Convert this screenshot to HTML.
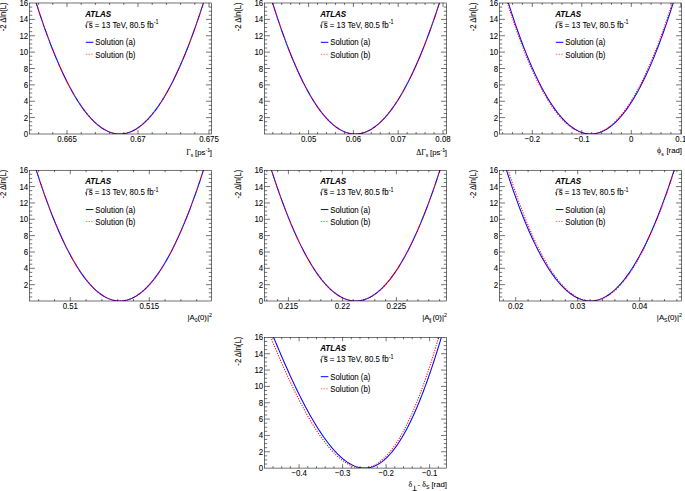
<!DOCTYPE html>
<html><head><meta charset="utf-8"><style>
html,body{margin:0;padding:0;background:#fff;}
body{width:685px;height:491px;overflow:hidden;}
svg{display:block;font-family:"Liberation Sans",sans-serif;font-size:7.8px;}
text{stroke:#000;stroke-width:0.06px;}
</style></head><body>
<svg width="685" height="491" viewBox="0 0 685 491">
<rect width="685" height="491" fill="#fff"/>
<clipPath id="c00"><rect x="29.5" y="3" width="182" height="131"/></clipPath>
<polyline clip-path="url(#c00)" points="32.37,-9.28 33.10,-6.90 33.83,-4.55 34.55,-2.21 35.28,0.11 36.01,2.41 36.74,4.69 37.47,6.95 38.20,9.19 38.93,11.40 39.65,13.60 40.38,15.78 41.11,17.94 41.84,20.08 42.57,22.20 43.30,24.30 44.03,26.38 44.76,28.44 45.48,30.48 46.21,32.50 46.94,34.50 47.67,36.48 48.40,38.44 49.13,40.38 49.86,42.30 50.58,44.20 51.31,46.08 52.04,47.94 52.77,49.78 53.50,51.60 54.23,53.40 54.96,55.19 55.68,56.95 56.41,58.69 57.14,60.41 57.87,62.11 58.60,63.79 59.33,65.45 60.06,67.10 60.78,68.72 61.51,70.32 62.24,71.90 62.97,73.46 63.70,75.01 64.43,76.53 65.16,78.03 65.88,79.51 66.61,80.98 67.34,82.42 68.07,83.84 68.80,85.24 69.53,86.63 70.26,87.99 70.98,89.33 71.71,90.66 72.44,91.96 73.17,93.24 73.90,94.51 74.63,95.75 75.36,96.98 76.08,98.18 76.81,99.36 77.54,100.53 78.27,101.67 79.00,102.80 79.73,103.90 80.46,104.99 81.18,106.05 81.91,107.09 82.64,108.12 83.37,109.12 84.10,110.11 84.83,111.07 85.56,112.02 86.28,112.95 87.01,113.85 87.74,114.74 88.47,115.60 89.20,116.45 89.93,117.27 90.66,118.08 91.38,118.87 92.11,119.63 92.84,120.38 93.57,121.10 94.30,121.81 95.03,122.50 95.76,123.16 96.49,123.81 97.21,124.44 97.94,125.04 98.67,125.63 99.40,126.20 100.13,126.75 100.86,127.27 101.59,127.78 102.31,128.27 103.04,128.74 103.77,129.18 104.50,129.61 105.23,130.02 105.96,130.41 106.69,130.78 107.41,131.12 108.14,131.45 108.87,131.76 109.60,132.05 110.33,132.32 111.06,132.57 111.79,132.80 112.51,133.00 113.24,133.19 113.97,133.36 114.70,133.51 115.43,133.64 116.16,133.75 116.89,133.84 117.61,133.91 118.34,133.96 119.07,133.99 119.80,134.00 120.53,133.99 121.26,133.96 121.99,133.91 122.71,133.84 123.44,133.75 124.17,133.64 124.90,133.51 125.63,133.36 126.36,133.19 127.09,133.00 127.81,132.80 128.54,132.57 129.27,132.32 130.00,132.05 130.73,131.76 131.46,131.45 132.19,131.12 132.91,130.78 133.64,130.41 134.37,130.02 135.10,129.61 135.83,129.18 136.56,128.74 137.29,128.27 138.01,127.78 138.74,127.27 139.47,126.75 140.20,126.20 140.93,125.63 141.66,125.04 142.39,124.44 143.11,123.81 143.84,123.16 144.57,122.50 145.30,121.81 146.03,121.10 146.76,120.38 147.49,119.63 148.22,118.87 148.94,118.08 149.67,117.27 150.40,116.45 151.13,115.60 151.86,114.74 152.59,113.85 153.32,112.95 154.04,112.02 154.77,111.07 155.50,110.11 156.23,109.12 156.96,108.12 157.69,107.09 158.42,106.05 159.14,104.99 159.87,103.90 160.60,102.80 161.33,101.67 162.06,100.53 162.79,99.36 163.52,98.18 164.24,96.98 164.97,95.75 165.70,94.51 166.43,93.24 167.16,91.96 167.89,90.66 168.62,89.33 169.34,87.99 170.07,86.63 170.80,85.24 171.53,83.84 172.26,82.42 172.99,80.98 173.72,79.51 174.44,78.03 175.17,76.53 175.90,75.01 176.63,73.46 177.36,71.90 178.09,70.32 178.82,68.72 179.54,67.10 180.27,65.45 181.00,63.79 181.73,62.11 182.46,60.41 183.19,58.69 183.92,56.95 184.64,55.19 185.37,53.40 186.10,51.60 186.83,49.78 187.56,47.94 188.29,46.08 189.02,44.20 189.74,42.30 190.47,40.38 191.20,38.44 191.93,36.48 192.66,34.50 193.39,32.50 194.12,30.48 194.84,28.44 195.57,26.38 196.30,24.30 197.03,22.20 197.76,20.08 198.49,17.94 199.22,15.78 199.95,13.60 200.67,11.40 201.40,9.19 202.13,6.95 202.86,4.69 203.59,2.41 204.32,0.11 205.05,-2.21 205.77,-4.55 206.50,-6.90 207.23,-9.28" fill="none" stroke="#0000ff" stroke-width="1.05"/>
<polyline clip-path="url(#c00)" points="32.37,-9.28 33.10,-6.90 33.83,-4.55 34.55,-2.21 35.28,0.11 36.01,2.41 36.74,4.69 37.47,6.95 38.20,9.19 38.93,11.40 39.65,13.60 40.38,15.78 41.11,17.94 41.84,20.08 42.57,22.20 43.30,24.30 44.03,26.38 44.76,28.44 45.48,30.48 46.21,32.50 46.94,34.50 47.67,36.48 48.40,38.44 49.13,40.38 49.86,42.30 50.58,44.20 51.31,46.08 52.04,47.94 52.77,49.78 53.50,51.60 54.23,53.40 54.96,55.19 55.68,56.95 56.41,58.69 57.14,60.41 57.87,62.11 58.60,63.79 59.33,65.45 60.06,67.10 60.78,68.72 61.51,70.32 62.24,71.90 62.97,73.46 63.70,75.01 64.43,76.53 65.16,78.03 65.88,79.51 66.61,80.98 67.34,82.42 68.07,83.84 68.80,85.24 69.53,86.63 70.26,87.99 70.98,89.33 71.71,90.66 72.44,91.96 73.17,93.24 73.90,94.51 74.63,95.75 75.36,96.98 76.08,98.18 76.81,99.36 77.54,100.53 78.27,101.67 79.00,102.80 79.73,103.90 80.46,104.99 81.18,106.05 81.91,107.09 82.64,108.12 83.37,109.12 84.10,110.11 84.83,111.07 85.56,112.02 86.28,112.95 87.01,113.85 87.74,114.74 88.47,115.60 89.20,116.45 89.93,117.27 90.66,118.08 91.38,118.87 92.11,119.63 92.84,120.38 93.57,121.10 94.30,121.81 95.03,122.50 95.76,123.16 96.49,123.81 97.21,124.44 97.94,125.04 98.67,125.63 99.40,126.20 100.13,126.75 100.86,127.27 101.59,127.78 102.31,128.27 103.04,128.74 103.77,129.18 104.50,129.61 105.23,130.02 105.96,130.41 106.69,130.78 107.41,131.12 108.14,131.45 108.87,131.76 109.60,132.05 110.33,132.32 111.06,132.57 111.79,132.80 112.51,133.00 113.24,133.19 113.97,133.36 114.70,133.51 115.43,133.64 116.16,133.75 116.89,133.84 117.61,133.91 118.34,133.96 119.07,133.99 119.80,134.00 120.53,133.99 121.26,133.96 121.99,133.91 122.71,133.84 123.44,133.75 124.17,133.64 124.90,133.51 125.63,133.36 126.36,133.19 127.09,133.00 127.81,132.80 128.54,132.57 129.27,132.32 130.00,132.05 130.73,131.76 131.46,131.45 132.19,131.12 132.91,130.78 133.64,130.41 134.37,130.02 135.10,129.61 135.83,129.18 136.56,128.74 137.29,128.27 138.01,127.78 138.74,127.27 139.47,126.75 140.20,126.20 140.93,125.63 141.66,125.04 142.39,124.44 143.11,123.81 143.84,123.16 144.57,122.50 145.30,121.81 146.03,121.10 146.76,120.38 147.49,119.63 148.22,118.87 148.94,118.08 149.67,117.27 150.40,116.45 151.13,115.60 151.86,114.74 152.59,113.85 153.32,112.95 154.04,112.02 154.77,111.07 155.50,110.11 156.23,109.12 156.96,108.12 157.69,107.09 158.42,106.05 159.14,104.99 159.87,103.90 160.60,102.80 161.33,101.67 162.06,100.53 162.79,99.36 163.52,98.18 164.24,96.98 164.97,95.75 165.70,94.51 166.43,93.24 167.16,91.96 167.89,90.66 168.62,89.33 169.34,87.99 170.07,86.63 170.80,85.24 171.53,83.84 172.26,82.42 172.99,80.98 173.72,79.51 174.44,78.03 175.17,76.53 175.90,75.01 176.63,73.46 177.36,71.90 178.09,70.32 178.82,68.72 179.54,67.10 180.27,65.45 181.00,63.79 181.73,62.11 182.46,60.41 183.19,58.69 183.92,56.95 184.64,55.19 185.37,53.40 186.10,51.60 186.83,49.78 187.56,47.94 188.29,46.08 189.02,44.20 189.74,42.30 190.47,40.38 191.20,38.44 191.93,36.48 192.66,34.50 193.39,32.50 194.12,30.48 194.84,28.44 195.57,26.38 196.30,24.30 197.03,22.20 197.76,20.08 198.49,17.94 199.22,15.78 199.95,13.60 200.67,11.40 201.40,9.19 202.13,6.95 202.86,4.69 203.59,2.41 204.32,0.11 205.05,-2.21 205.77,-4.55 206.50,-6.90 207.23,-9.28" fill="none" stroke="#ff0000" stroke-width="1.05" stroke-dasharray="1.15,1.35"/>
<rect x="29.5" y="3" width="182" height="131" fill="none" stroke="#000" stroke-width="0.55"/>
<path d="M29.5 129.91h2.73M211.5 129.91h-2.73M29.5 125.81h2.73M211.5 125.81h-2.73M29.5 121.72h2.73M211.5 121.72h-2.73M29.5 117.62h5.46M211.5 117.62h-5.46M29.5 113.53h2.73M211.5 113.53h-2.73M29.5 109.44h2.73M211.5 109.44h-2.73M29.5 105.34h2.73M211.5 105.34h-2.73M29.5 101.25h5.46M211.5 101.25h-5.46M29.5 97.16h2.73M211.5 97.16h-2.73M29.5 93.06h2.73M211.5 93.06h-2.73M29.5 88.97h2.73M211.5 88.97h-2.73M29.5 84.88h5.46M211.5 84.88h-5.46M29.5 80.78h2.73M211.5 80.78h-2.73M29.5 76.69h2.73M211.5 76.69h-2.73M29.5 72.59h2.73M211.5 72.59h-2.73M29.5 68.5h5.46M211.5 68.5h-5.46M29.5 64.41h2.73M211.5 64.41h-2.73M29.5 60.31h2.73M211.5 60.31h-2.73M29.5 56.22h2.73M211.5 56.22h-2.73M29.5 52.12h5.46M211.5 52.12h-5.46M29.5 48.03h2.73M211.5 48.03h-2.73M29.5 43.94h2.73M211.5 43.94h-2.73M29.5 39.84h2.73M211.5 39.84h-2.73M29.5 35.75h5.46M211.5 35.75h-5.46M29.5 31.66h2.73M211.5 31.66h-2.73M29.5 27.56h2.73M211.5 27.56h-2.73M29.5 23.47h2.73M211.5 23.47h-2.73M29.5 19.38h5.46M211.5 19.38h-5.46M29.5 15.28h2.73M211.5 15.28h-2.73M29.5 11.19h2.73M211.5 11.19h-2.73M29.5 7.09h2.73M211.5 7.09h-2.73M38.6 134v-1.96M38.6 3v1.96M52.8 134v-1.96M52.8 3v1.96M67 134v-3.93M67 3v3.93M81.2 134v-1.96M81.2 3v1.96M95.4 134v-1.96M95.4 3v1.96M109.6 134v-1.96M109.6 3v1.96M123.8 134v-1.96M123.8 3v1.96M138 134v-3.93M138 3v3.93M152.2 134v-1.96M152.2 3v1.96M166.4 134v-1.96M166.4 3v1.96M180.6 134v-1.96M180.6 3v1.96M194.8 134v-1.96M194.8 3v1.96M209 134v-3.93M209 3v3.93" stroke="#000" stroke-width="0.55" fill="none"/>
<text transform="translate(28.2 137) scale(1.01 1.17)" text-anchor="end">0</text>
<text transform="translate(28.2 120.62) scale(1.01 1.17)" text-anchor="end">2</text>
<text transform="translate(28.2 104.25) scale(1.01 1.17)" text-anchor="end">4</text>
<text transform="translate(28.2 87.88) scale(1.01 1.17)" text-anchor="end">6</text>
<text transform="translate(28.2 71.5) scale(1.01 1.17)" text-anchor="end">8</text>
<text transform="translate(28.2 55.12) scale(1.01 1.17)" text-anchor="end">10</text>
<text transform="translate(28.2 38.75) scale(1.01 1.17)" text-anchor="end">12</text>
<text transform="translate(28.2 22.38) scale(1.01 1.17)" text-anchor="end">14</text>
<text transform="translate(28.2 6) scale(1.01 1.17)" text-anchor="end">16</text>
<text transform="translate(67 142) scale(1.01 1.17)" text-anchor="middle">0.665</text>
<text transform="translate(138 142) scale(1.01 1.17)" text-anchor="middle">0.67</text>
<text transform="translate(209 142) scale(1.01 1.17)" text-anchor="middle">0.675</text>
<text transform="translate(212 155.1) scale(1.0 1.0)" text-anchor="end"><tspan font-family="Liberation Serif">Γ</tspan><tspan font-size="5.0" dy="2.3">s</tspan><tspan dy="-2.3" dx="-0.3"> [ps</tspan><tspan font-size="5.4" dy="-3.0">-1</tspan><tspan dy="3.0" dx="-0.5">]</tspan></text>
<text transform="translate(6.1 2.4) rotate(-90) scale(0.98 1.2)" text-anchor="end">-2 Δln(L)</text>
<text transform="translate(85.2 16.5) scale(1.02 1.17)" font-weight="bold" font-style="italic">ATLAS</text>
<path d="M85.6 24.7l0.8 3.4l0.5 -6.2h5.6" stroke="#000" stroke-width="0.6" fill="none"/>
<text transform="translate(88.7 27.9) scale(1.01 1.17)">s = 13 TeV, 80.5 fb<tspan font-size="5.4" dy="-3.0">-1</tspan></text>
<path d="M85.8 42.3h7.6" stroke="#0000ff" stroke-width="1.0"/>
<path d="M85.8 54.3h7.6" stroke="#ff0000" stroke-opacity="0.55" stroke-width="1.1" stroke-dasharray="1.5,1.2"/>
<text transform="translate(95.2 45.4) scale(1.01 1.17)">Solution (a)</text>
<text transform="translate(95.2 57.9) scale(1.01 1.17)">Solution (b)</text>
<clipPath id="c10"><rect x="264.5" y="3" width="182" height="131"/></clipPath>
<polyline clip-path="url(#c10)" points="268.87,-9.28 269.58,-6.90 270.29,-4.55 271.01,-2.21 271.72,0.11 272.44,2.41 273.15,4.69 273.86,6.95 274.58,9.19 275.29,11.40 276.01,13.60 276.72,15.78 277.44,17.94 278.15,20.08 278.87,22.20 279.58,24.30 280.30,26.38 281.01,28.44 281.73,30.48 282.45,32.50 283.16,34.50 283.88,36.48 284.59,38.44 285.31,40.38 286.03,42.30 286.74,44.20 287.46,46.08 288.18,47.94 288.89,49.78 289.61,51.60 290.33,53.40 291.04,55.19 291.76,56.95 292.48,58.69 293.20,60.41 293.91,62.11 294.63,63.79 295.35,65.45 296.07,67.10 296.78,68.72 297.50,70.32 298.22,71.90 298.94,73.46 299.66,75.01 300.38,76.53 301.09,78.03 301.81,79.51 302.53,80.98 303.25,82.42 303.97,83.84 304.69,85.24 305.41,86.63 306.13,87.99 306.85,89.33 307.57,90.66 308.29,91.96 309.01,93.24 309.73,94.51 310.45,95.75 311.17,96.98 311.89,98.18 312.61,99.36 313.33,100.53 314.05,101.67 314.77,102.80 315.49,103.90 316.21,104.99 316.93,106.05 317.65,107.09 318.37,108.12 319.09,109.12 319.82,110.11 320.54,111.07 321.26,112.02 321.98,112.95 322.70,113.85 323.42,114.74 324.15,115.60 324.87,116.45 325.59,117.27 326.31,118.08 327.04,118.87 327.76,119.63 328.48,120.38 329.20,121.10 329.93,121.81 330.65,122.50 331.37,123.16 332.10,123.81 332.82,124.44 333.54,125.04 334.27,125.63 334.99,126.20 335.71,126.75 336.44,127.27 337.16,127.78 337.89,128.27 338.61,128.74 339.34,129.18 340.06,129.61 340.78,130.02 341.51,130.41 342.23,130.78 342.96,131.12 343.68,131.45 344.41,131.76 345.13,132.05 345.86,132.32 346.59,132.57 347.31,132.80 348.04,133.00 348.76,133.19 349.49,133.36 350.21,133.51 350.94,133.64 351.67,133.75 352.39,133.84 353.12,133.91 353.85,133.96 354.57,133.99 355.30,134.00 356.03,133.99 356.75,133.96 357.48,133.91 358.21,133.84 358.94,133.75 359.66,133.64 360.39,133.51 361.12,133.36 361.85,133.19 362.57,133.00 363.30,132.80 364.03,132.57 364.76,132.32 365.49,132.05 366.22,131.76 366.94,131.45 367.67,131.12 368.40,130.78 369.13,130.41 369.86,130.02 370.59,129.61 371.32,129.18 372.05,128.74 372.78,128.27 373.51,127.78 374.24,127.27 374.96,126.75 375.69,126.20 376.42,125.63 377.15,125.04 377.88,124.44 378.62,123.81 379.35,123.16 380.08,122.50 380.81,121.81 381.54,121.10 382.27,120.38 383.00,119.63 383.73,118.87 384.46,118.08 385.19,117.27 385.92,116.45 386.66,115.60 387.39,114.74 388.12,113.85 388.85,112.95 389.58,112.02 390.31,111.07 391.05,110.11 391.78,109.12 392.51,108.12 393.24,107.09 393.98,106.05 394.71,104.99 395.44,103.90 396.18,102.80 396.91,101.67 397.64,100.53 398.37,99.36 399.11,98.18 399.84,96.98 400.57,95.75 401.31,94.51 402.04,93.24 402.78,91.96 403.51,90.66 404.24,89.33 404.98,87.99 405.71,86.63 406.45,85.24 407.18,83.84 407.92,82.42 408.65,80.98 409.39,79.51 410.12,78.03 410.86,76.53 411.59,75.01 412.33,73.46 413.06,71.90 413.80,70.32 414.53,68.72 415.27,67.10 416.01,65.45 416.74,63.79 417.48,62.11 418.21,60.41 418.95,58.69 419.69,56.95 420.42,55.19 421.16,53.40 421.90,51.60 422.63,49.78 423.37,47.94 424.11,46.08 424.84,44.20 425.58,42.30 426.32,40.38 427.06,38.44 427.79,36.48 428.53,34.50 429.27,32.50 430.01,30.48 430.75,28.44 431.48,26.38 432.22,24.30 432.96,22.20 433.70,20.08 434.44,17.94 435.18,15.78 435.92,13.60 436.65,11.40 437.39,9.19 438.13,6.95 438.87,4.69 439.61,2.41 440.35,0.11 441.09,-2.21 441.83,-4.55 442.57,-6.90 443.31,-9.28" fill="none" stroke="#0000ff" stroke-width="1.05"/>
<polyline clip-path="url(#c10)" points="268.87,-9.28 269.58,-6.90 270.29,-4.55 271.01,-2.21 271.72,0.11 272.44,2.41 273.15,4.69 273.86,6.95 274.58,9.19 275.29,11.40 276.01,13.60 276.72,15.78 277.44,17.94 278.15,20.08 278.87,22.20 279.58,24.30 280.30,26.38 281.01,28.44 281.73,30.48 282.45,32.50 283.16,34.50 283.88,36.48 284.59,38.44 285.31,40.38 286.03,42.30 286.74,44.20 287.46,46.08 288.18,47.94 288.89,49.78 289.61,51.60 290.33,53.40 291.04,55.19 291.76,56.95 292.48,58.69 293.20,60.41 293.91,62.11 294.63,63.79 295.35,65.45 296.07,67.10 296.78,68.72 297.50,70.32 298.22,71.90 298.94,73.46 299.66,75.01 300.38,76.53 301.09,78.03 301.81,79.51 302.53,80.98 303.25,82.42 303.97,83.84 304.69,85.24 305.41,86.63 306.13,87.99 306.85,89.33 307.57,90.66 308.29,91.96 309.01,93.24 309.73,94.51 310.45,95.75 311.17,96.98 311.89,98.18 312.61,99.36 313.33,100.53 314.05,101.67 314.77,102.80 315.49,103.90 316.21,104.99 316.93,106.05 317.65,107.09 318.37,108.12 319.09,109.12 319.82,110.11 320.54,111.07 321.26,112.02 321.98,112.95 322.70,113.85 323.42,114.74 324.15,115.60 324.87,116.45 325.59,117.27 326.31,118.08 327.04,118.87 327.76,119.63 328.48,120.38 329.20,121.10 329.93,121.81 330.65,122.50 331.37,123.16 332.10,123.81 332.82,124.44 333.54,125.04 334.27,125.63 334.99,126.20 335.71,126.75 336.44,127.27 337.16,127.78 337.89,128.27 338.61,128.74 339.34,129.18 340.06,129.61 340.78,130.02 341.51,130.41 342.23,130.78 342.96,131.12 343.68,131.45 344.41,131.76 345.13,132.05 345.86,132.32 346.59,132.57 347.31,132.80 348.04,133.00 348.76,133.19 349.49,133.36 350.21,133.51 350.94,133.64 351.67,133.75 352.39,133.84 353.12,133.91 353.85,133.96 354.57,133.99 355.30,134.00 356.03,133.99 356.75,133.96 357.48,133.91 358.21,133.84 358.94,133.75 359.66,133.64 360.39,133.51 361.12,133.36 361.85,133.19 362.57,133.00 363.30,132.80 364.03,132.57 364.76,132.32 365.49,132.05 366.22,131.76 366.94,131.45 367.67,131.12 368.40,130.78 369.13,130.41 369.86,130.02 370.59,129.61 371.32,129.18 372.05,128.74 372.78,128.27 373.51,127.78 374.24,127.27 374.96,126.75 375.69,126.20 376.42,125.63 377.15,125.04 377.88,124.44 378.62,123.81 379.35,123.16 380.08,122.50 380.81,121.81 381.54,121.10 382.27,120.38 383.00,119.63 383.73,118.87 384.46,118.08 385.19,117.27 385.92,116.45 386.66,115.60 387.39,114.74 388.12,113.85 388.85,112.95 389.58,112.02 390.31,111.07 391.05,110.11 391.78,109.12 392.51,108.12 393.24,107.09 393.98,106.05 394.71,104.99 395.44,103.90 396.18,102.80 396.91,101.67 397.64,100.53 398.37,99.36 399.11,98.18 399.84,96.98 400.57,95.75 401.31,94.51 402.04,93.24 402.78,91.96 403.51,90.66 404.24,89.33 404.98,87.99 405.71,86.63 406.45,85.24 407.18,83.84 407.92,82.42 408.65,80.98 409.39,79.51 410.12,78.03 410.86,76.53 411.59,75.01 412.33,73.46 413.06,71.90 413.80,70.32 414.53,68.72 415.27,67.10 416.01,65.45 416.74,63.79 417.48,62.11 418.21,60.41 418.95,58.69 419.69,56.95 420.42,55.19 421.16,53.40 421.90,51.60 422.63,49.78 423.37,47.94 424.11,46.08 424.84,44.20 425.58,42.30 426.32,40.38 427.06,38.44 427.79,36.48 428.53,34.50 429.27,32.50 430.01,30.48 430.75,28.44 431.48,26.38 432.22,24.30 432.96,22.20 433.70,20.08 434.44,17.94 435.18,15.78 435.92,13.60 436.65,11.40 437.39,9.19 438.13,6.95 438.87,4.69 439.61,2.41 440.35,0.11 441.09,-2.21 441.83,-4.55 442.57,-6.90 443.31,-9.28" fill="none" stroke="#ff0000" stroke-width="1.05" stroke-dasharray="1.15,1.35"/>
<rect x="264.5" y="3" width="182" height="131" fill="none" stroke="#000" stroke-width="0.55"/>
<path d="M264.5 129.91h2.73M446.5 129.91h-2.73M264.5 125.81h2.73M446.5 125.81h-2.73M264.5 121.72h2.73M446.5 121.72h-2.73M264.5 117.62h5.46M446.5 117.62h-5.46M264.5 113.53h2.73M446.5 113.53h-2.73M264.5 109.44h2.73M446.5 109.44h-2.73M264.5 105.34h2.73M446.5 105.34h-2.73M264.5 101.25h5.46M446.5 101.25h-5.46M264.5 97.16h2.73M446.5 97.16h-2.73M264.5 93.06h2.73M446.5 93.06h-2.73M264.5 88.97h2.73M446.5 88.97h-2.73M264.5 84.88h5.46M446.5 84.88h-5.46M264.5 80.78h2.73M446.5 80.78h-2.73M264.5 76.69h2.73M446.5 76.69h-2.73M264.5 72.59h2.73M446.5 72.59h-2.73M264.5 68.5h5.46M446.5 68.5h-5.46M264.5 64.41h2.73M446.5 64.41h-2.73M264.5 60.31h2.73M446.5 60.31h-2.73M264.5 56.22h2.73M446.5 56.22h-2.73M264.5 52.12h5.46M446.5 52.12h-5.46M264.5 48.03h2.73M446.5 48.03h-2.73M264.5 43.94h2.73M446.5 43.94h-2.73M264.5 39.84h2.73M446.5 39.84h-2.73M264.5 35.75h5.46M446.5 35.75h-5.46M264.5 31.66h2.73M446.5 31.66h-2.73M264.5 27.56h2.73M446.5 27.56h-2.73M264.5 23.47h2.73M446.5 23.47h-2.73M264.5 19.38h5.46M446.5 19.38h-5.46M264.5 15.28h2.73M446.5 15.28h-2.73M264.5 11.19h2.73M446.5 11.19h-2.73M264.5 7.09h2.73M446.5 7.09h-2.73M272.76 134v-1.96M272.76 3v1.96M281.72 134v-1.96M281.72 3v1.96M290.68 134v-1.96M290.68 3v1.96M299.64 134v-1.96M299.64 3v1.96M308.6 134v-3.93M308.6 3v3.93M317.56 134v-1.96M317.56 3v1.96M326.52 134v-1.96M326.52 3v1.96M335.48 134v-1.96M335.48 3v1.96M344.44 134v-1.96M344.44 3v1.96M353.4 134v-3.93M353.4 3v3.93M362.36 134v-1.96M362.36 3v1.96M371.32 134v-1.96M371.32 3v1.96M380.28 134v-1.96M380.28 3v1.96M389.24 134v-1.96M389.24 3v1.96M398.2 134v-3.93M398.2 3v3.93M407.16 134v-1.96M407.16 3v1.96M416.12 134v-1.96M416.12 3v1.96M425.08 134v-1.96M425.08 3v1.96M434.04 134v-1.96M434.04 3v1.96M443 134v-3.93M443 3v3.93" stroke="#000" stroke-width="0.55" fill="none"/>
<text transform="translate(263.2 120.62) scale(1.01 1.17)" text-anchor="end">2</text>
<text transform="translate(263.2 104.25) scale(1.01 1.17)" text-anchor="end">4</text>
<text transform="translate(263.2 87.88) scale(1.01 1.17)" text-anchor="end">6</text>
<text transform="translate(263.2 71.5) scale(1.01 1.17)" text-anchor="end">8</text>
<text transform="translate(263.2 55.12) scale(1.01 1.17)" text-anchor="end">10</text>
<text transform="translate(263.2 38.75) scale(1.01 1.17)" text-anchor="end">12</text>
<text transform="translate(263.2 22.38) scale(1.01 1.17)" text-anchor="end">14</text>
<text transform="translate(263.2 6) scale(1.01 1.17)" text-anchor="end">16</text>
<text transform="translate(308.6 142) scale(1.01 1.17)" text-anchor="middle">0.05</text>
<text transform="translate(353.4 142) scale(1.01 1.17)" text-anchor="middle">0.06</text>
<text transform="translate(398.2 142) scale(1.01 1.17)" text-anchor="middle">0.07</text>
<text transform="translate(443 142) scale(1.01 1.17)" text-anchor="middle">0.08</text>
<text transform="translate(447 155.1) scale(1.0 1.0)" text-anchor="end"><tspan font-family="Liberation Serif">ΔΓ</tspan><tspan font-size="5.0" dy="2.3">s</tspan><tspan dy="-2.3" dx="-0.3"> [ps</tspan><tspan font-size="5.4" dy="-3.0">-1</tspan><tspan dy="3.0" dx="-0.5">]</tspan></text>
<text transform="translate(241.1 2.4) rotate(-90) scale(0.98 1.2)" text-anchor="end">-2 Δln(L)</text>
<text transform="translate(320.2 16.5) scale(1.02 1.17)" font-weight="bold" font-style="italic">ATLAS</text>
<path d="M320.6 24.7l0.8 3.4l0.5 -6.2h5.6" stroke="#000" stroke-width="0.6" fill="none"/>
<text transform="translate(323.7 27.9) scale(1.01 1.17)">s = 13 TeV, 80.5 fb<tspan font-size="5.4" dy="-3.0">-1</tspan></text>
<path d="M320.8 42.3h7.6" stroke="#0000ff" stroke-width="1.0"/>
<path d="M320.8 54.3h7.6" stroke="#ff0000" stroke-opacity="0.55" stroke-width="1.1" stroke-dasharray="1.5,1.2"/>
<text transform="translate(330.2 45.4) scale(1.01 1.17)">Solution (a)</text>
<text transform="translate(330.2 57.9) scale(1.01 1.17)">Solution (b)</text>
<clipPath id="c20"><rect x="499.5" y="3" width="182" height="131"/></clipPath>
<polyline clip-path="url(#c20)" points="504.62,-9.28 505.34,-6.90 506.06,-4.55 506.78,-2.21 507.50,0.11 508.21,2.41 508.93,4.69 509.65,6.95 510.37,9.19 511.09,11.40 511.81,13.60 512.52,15.78 513.24,17.94 513.96,20.08 514.68,22.20 515.40,24.30 516.11,26.38 516.83,28.44 517.55,30.48 518.27,32.50 518.99,34.50 519.70,36.48 520.42,38.44 521.14,40.38 521.86,42.30 522.58,44.20 523.30,46.08 524.01,47.94 524.73,49.78 525.45,51.60 526.17,53.40 526.89,55.19 527.60,56.95 528.32,58.69 529.04,60.41 529.76,62.11 530.48,63.79 531.19,65.45 531.91,67.10 532.63,68.72 533.35,70.32 534.07,71.90 534.79,73.46 535.50,75.01 536.22,76.53 536.94,78.03 537.66,79.51 538.38,80.98 539.09,82.42 539.81,83.84 540.53,85.24 541.25,86.63 541.97,87.99 542.69,89.33 543.40,90.66 544.12,91.96 544.84,93.24 545.56,94.51 546.28,95.75 546.99,96.98 547.71,98.18 548.43,99.36 549.15,100.53 549.87,101.67 550.58,102.80 551.30,103.90 552.02,104.99 552.74,106.05 553.46,107.09 554.18,108.12 554.89,109.12 555.61,110.11 556.33,111.07 557.05,112.02 557.77,112.95 558.48,113.85 559.20,114.74 559.92,115.60 560.64,116.45 561.36,117.27 562.07,118.08 562.79,118.87 563.51,119.63 564.23,120.38 564.95,121.10 565.67,121.81 566.38,122.50 567.10,123.16 567.82,123.81 568.54,124.44 569.26,125.04 569.97,125.63 570.69,126.20 571.41,126.75 572.13,127.27 572.85,127.78 573.56,128.27 574.28,128.74 575.00,129.18 575.72,129.61 576.44,130.02 577.16,130.41 577.87,130.78 578.59,131.12 579.31,131.45 580.03,131.76 580.75,132.05 581.46,132.32 582.18,132.57 582.90,132.80 583.62,133.00 584.34,133.19 585.05,133.36 585.77,133.51 586.49,133.64 587.21,133.75 587.93,133.84 588.65,133.91 589.36,133.96 590.08,133.99 590.80,134.00 591.52,133.99 592.24,133.96 592.95,133.91 593.67,133.84 594.39,133.75 595.11,133.64 595.83,133.51 596.55,133.36 597.26,133.19 597.98,133.00 598.70,132.80 599.42,132.57 600.14,132.32 600.85,132.05 601.57,131.76 602.29,131.45 603.01,131.12 603.73,130.78 604.44,130.41 605.16,130.02 605.88,129.61 606.60,129.18 607.32,128.74 608.04,128.27 608.75,127.78 609.47,127.27 610.19,126.75 610.91,126.20 611.63,125.63 612.34,125.04 613.06,124.44 613.78,123.81 614.50,123.16 615.22,122.50 615.93,121.81 616.65,121.10 617.37,120.38 618.09,119.63 618.81,118.87 619.53,118.08 620.24,117.27 620.96,116.45 621.68,115.60 622.40,114.74 623.12,113.85 623.83,112.95 624.55,112.02 625.27,111.07 625.99,110.11 626.71,109.12 627.42,108.12 628.14,107.09 628.86,106.05 629.58,104.99 630.30,103.90 631.02,102.80 631.73,101.67 632.45,100.53 633.17,99.36 633.89,98.18 634.61,96.98 635.32,95.75 636.04,94.51 636.76,93.24 637.48,91.96 638.20,90.66 638.91,89.33 639.63,87.99 640.35,86.63 641.07,85.24 641.79,83.84 642.51,82.42 643.22,80.98 643.94,79.51 644.66,78.03 645.38,76.53 646.10,75.01 646.81,73.46 647.53,71.90 648.25,70.32 648.97,68.72 649.69,67.10 650.41,65.45 651.12,63.79 651.84,62.11 652.56,60.41 653.28,58.69 654.00,56.95 654.71,55.19 655.43,53.40 656.15,51.60 656.87,49.78 657.59,47.94 658.30,46.08 659.02,44.20 659.74,42.30 660.46,40.38 661.18,38.44 661.90,36.48 662.61,34.50 663.33,32.50 664.05,30.48 664.77,28.44 665.49,26.38 666.20,24.30 666.92,22.20 667.64,20.08 668.36,17.94 669.08,15.78 669.79,13.60 670.51,11.40 671.23,9.19 671.95,6.95 672.67,4.69 673.39,2.41 674.10,0.11 674.82,-2.21 675.54,-4.55 676.26,-6.90 676.98,-9.28" fill="none" stroke="#0000ff" stroke-width="1.05"/>
<polyline clip-path="url(#c20)" points="503.62,-9.28 504.34,-6.90 505.06,-4.55 505.78,-2.21 506.50,0.11 507.21,2.41 507.93,4.69 508.65,6.95 509.37,9.19 510.09,11.40 510.81,13.60 511.52,15.78 512.24,17.94 512.96,20.08 513.68,22.20 514.40,24.30 515.11,26.38 515.83,28.44 516.55,30.48 517.27,32.50 517.99,34.50 518.70,36.48 519.42,38.44 520.14,40.38 520.86,42.30 521.58,44.20 522.30,46.08 523.01,47.94 523.73,49.78 524.45,51.60 525.17,53.40 525.89,55.19 526.60,56.95 527.32,58.69 528.04,60.41 528.76,62.11 529.48,63.79 530.19,65.45 530.91,67.10 531.63,68.72 532.35,70.32 533.07,71.90 533.79,73.46 534.50,75.01 535.22,76.53 535.94,78.03 536.66,79.51 537.38,80.98 538.09,82.42 538.81,83.84 539.53,85.24 540.25,86.63 540.97,87.99 541.69,89.33 542.40,90.66 543.12,91.96 543.84,93.24 544.56,94.51 545.28,95.75 545.99,96.98 546.71,98.18 547.43,99.36 548.15,100.53 548.87,101.67 549.58,102.80 550.30,103.90 551.02,104.99 551.74,106.05 552.46,107.09 553.18,108.12 553.89,109.12 554.61,110.11 555.33,111.07 556.05,112.02 556.77,112.95 557.48,113.85 558.20,114.74 558.92,115.60 559.64,116.45 560.36,117.27 561.07,118.08 561.79,118.87 562.51,119.63 563.23,120.38 563.95,121.10 564.67,121.81 565.38,122.50 566.10,123.16 566.82,123.81 567.54,124.44 568.26,125.04 568.97,125.63 569.69,126.20 570.41,126.75 571.13,127.27 571.85,127.78 572.56,128.27 573.28,128.74 574.00,129.18 574.72,129.61 575.44,130.02 576.16,130.41 576.87,130.78 577.59,131.12 578.31,131.45 579.03,131.76 579.75,132.05 580.46,132.32 581.18,132.57 581.90,132.80 582.62,133.00 583.34,133.19 584.05,133.36 584.77,133.51 585.49,133.64 586.21,133.75 586.93,133.84 587.65,133.91 588.36,133.96 589.08,133.99 589.80,134.00 590.52,133.99 591.24,133.96 591.95,133.91 592.67,133.84 593.39,133.75 594.11,133.64 594.83,133.51 595.55,133.36 596.26,133.19 596.98,133.00 597.70,132.80 598.42,132.57 599.14,132.32 599.85,132.05 600.57,131.76 601.29,131.45 602.01,131.12 602.73,130.78 603.44,130.41 604.16,130.02 604.88,129.61 605.60,129.18 606.32,128.74 607.04,128.27 607.75,127.78 608.47,127.27 609.19,126.75 609.91,126.20 610.63,125.63 611.34,125.04 612.06,124.44 612.78,123.81 613.50,123.16 614.22,122.50 614.93,121.81 615.65,121.10 616.37,120.38 617.09,119.63 617.81,118.87 618.53,118.08 619.24,117.27 619.96,116.45 620.68,115.60 621.40,114.74 622.12,113.85 622.83,112.95 623.55,112.02 624.27,111.07 624.99,110.11 625.71,109.12 626.42,108.12 627.14,107.09 627.86,106.05 628.58,104.99 629.30,103.90 630.02,102.80 630.73,101.67 631.45,100.53 632.17,99.36 632.89,98.18 633.61,96.98 634.32,95.75 635.04,94.51 635.76,93.24 636.48,91.96 637.20,90.66 637.91,89.33 638.63,87.99 639.35,86.63 640.07,85.24 640.79,83.84 641.51,82.42 642.22,80.98 642.94,79.51 643.66,78.03 644.38,76.53 645.10,75.01 645.81,73.46 646.53,71.90 647.25,70.32 647.97,68.72 648.69,67.10 649.41,65.45 650.12,63.79 650.84,62.11 651.56,60.41 652.28,58.69 653.00,56.95 653.71,55.19 654.43,53.40 655.15,51.60 655.87,49.78 656.59,47.94 657.30,46.08 658.02,44.20 658.74,42.30 659.46,40.38 660.18,38.44 660.90,36.48 661.61,34.50 662.33,32.50 663.05,30.48 663.77,28.44 664.49,26.38 665.20,24.30 665.92,22.20 666.64,20.08 667.36,17.94 668.08,15.78 668.79,13.60 669.51,11.40 670.23,9.19 670.95,6.95 671.67,4.69 672.39,2.41 673.10,0.11 673.82,-2.21 674.54,-4.55 675.26,-6.90 675.98,-9.28" fill="none" stroke="#ff0000" stroke-width="1.05" stroke-dasharray="1.15,1.35"/>
<rect x="499.5" y="3" width="182" height="131" fill="none" stroke="#000" stroke-width="0.55"/>
<path d="M499.5 129.91h2.73M681.5 129.91h-2.73M499.5 125.81h2.73M681.5 125.81h-2.73M499.5 121.72h2.73M681.5 121.72h-2.73M499.5 117.62h5.46M681.5 117.62h-5.46M499.5 113.53h2.73M681.5 113.53h-2.73M499.5 109.44h2.73M681.5 109.44h-2.73M499.5 105.34h2.73M681.5 105.34h-2.73M499.5 101.25h5.46M681.5 101.25h-5.46M499.5 97.16h2.73M681.5 97.16h-2.73M499.5 93.06h2.73M681.5 93.06h-2.73M499.5 88.97h2.73M681.5 88.97h-2.73M499.5 84.88h5.46M681.5 84.88h-5.46M499.5 80.78h2.73M681.5 80.78h-2.73M499.5 76.69h2.73M681.5 76.69h-2.73M499.5 72.59h2.73M681.5 72.59h-2.73M499.5 68.5h5.46M681.5 68.5h-5.46M499.5 64.41h2.73M681.5 64.41h-2.73M499.5 60.31h2.73M681.5 60.31h-2.73M499.5 56.22h2.73M681.5 56.22h-2.73M499.5 52.12h5.46M681.5 52.12h-5.46M499.5 48.03h2.73M681.5 48.03h-2.73M499.5 43.94h2.73M681.5 43.94h-2.73M499.5 39.84h2.73M681.5 39.84h-2.73M499.5 35.75h5.46M681.5 35.75h-5.46M499.5 31.66h2.73M681.5 31.66h-2.73M499.5 27.56h2.73M681.5 27.56h-2.73M499.5 23.47h2.73M681.5 23.47h-2.73M499.5 19.38h5.46M681.5 19.38h-5.46M499.5 15.28h2.73M681.5 15.28h-2.73M499.5 11.19h2.73M681.5 11.19h-2.73M499.5 7.09h2.73M681.5 7.09h-2.73M502.6 134v-1.96M502.6 3v1.96M512.5 134v-1.96M512.5 3v1.96M522.4 134v-1.96M522.4 3v1.96M532.3 134v-3.93M532.3 3v3.93M542.2 134v-1.96M542.2 3v1.96M552.1 134v-1.96M552.1 3v1.96M562 134v-1.96M562 3v1.96M571.9 134v-1.96M571.9 3v1.96M581.8 134v-3.93M581.8 3v3.93M591.7 134v-1.96M591.7 3v1.96M601.6 134v-1.96M601.6 3v1.96M611.5 134v-1.96M611.5 3v1.96M621.4 134v-1.96M621.4 3v1.96M631.3 134v-3.93M631.3 3v3.93M641.2 134v-1.96M641.2 3v1.96M651.1 134v-1.96M651.1 3v1.96M661 134v-1.96M661 3v1.96M670.9 134v-1.96M670.9 3v1.96M680.8 134v-3.93M680.8 3v3.93" stroke="#000" stroke-width="0.55" fill="none"/>
<text transform="translate(498.2 137) scale(1.01 1.17)" text-anchor="end">0</text>
<text transform="translate(498.2 120.62) scale(1.01 1.17)" text-anchor="end">2</text>
<text transform="translate(498.2 104.25) scale(1.01 1.17)" text-anchor="end">4</text>
<text transform="translate(498.2 87.88) scale(1.01 1.17)" text-anchor="end">6</text>
<text transform="translate(498.2 71.5) scale(1.01 1.17)" text-anchor="end">8</text>
<text transform="translate(498.2 55.12) scale(1.01 1.17)" text-anchor="end">10</text>
<text transform="translate(498.2 38.75) scale(1.01 1.17)" text-anchor="end">12</text>
<text transform="translate(498.2 22.38) scale(1.01 1.17)" text-anchor="end">14</text>
<text transform="translate(498.2 6) scale(1.01 1.17)" text-anchor="end">16</text>
<text transform="translate(532.3 142) scale(1.01 1.17)" text-anchor="middle">−0.2</text>
<text transform="translate(581.8 142) scale(1.01 1.17)" text-anchor="middle">−0.1</text>
<text transform="translate(631.3 142) scale(1.01 1.17)" text-anchor="middle">0</text>
<text transform="translate(680.8 142) scale(1.01 1.17)" text-anchor="middle">0.1</text>
<text transform="translate(682 153) scale(1.0 1.0)" text-anchor="end"><tspan font-family="Liberation Serif">ϕ</tspan><tspan font-size="5.0" dy="2.9">s</tspan><tspan dy="-2.9" dx="0.5"> [rad]</tspan></text>
<text transform="translate(476.1 2.4) rotate(-90) scale(0.98 1.2)" text-anchor="end">-2 Δln(L)</text>
<text transform="translate(555.2 16.5) scale(1.02 1.17)" font-weight="bold" font-style="italic">ATLAS</text>
<path d="M555.6 24.7l0.8 3.4l0.5 -6.2h5.6" stroke="#000" stroke-width="0.6" fill="none"/>
<text transform="translate(558.7 27.9) scale(1.01 1.17)">s = 13 TeV, 80.5 fb<tspan font-size="5.4" dy="-3.0">-1</tspan></text>
<path d="M555.8 42.3h7.6" stroke="#0000ff" stroke-width="1.0"/>
<path d="M555.8 54.3h7.6" stroke="#ff0000" stroke-opacity="0.55" stroke-width="1.1" stroke-dasharray="1.5,1.2"/>
<text transform="translate(565.2 45.4) scale(1.01 1.17)">Solution (a)</text>
<text transform="translate(565.2 57.9) scale(1.01 1.17)">Solution (b)</text>
<clipPath id="c01"><rect x="29.5" y="170.25" width="182" height="130.75"/></clipPath>
<polyline clip-path="url(#c01)" points="32.47,157.99 33.20,160.37 33.93,162.72 34.66,165.05 35.38,167.37 36.11,169.66 36.84,171.94 37.57,174.19 38.30,176.42 39.02,178.64 39.75,180.83 40.48,183.01 41.21,185.16 41.94,187.30 42.67,189.41 43.39,191.51 44.12,193.59 44.85,195.64 45.58,197.68 46.31,199.69 47.03,201.69 47.76,203.67 48.49,205.62 49.22,207.56 49.95,209.47 50.68,211.37 51.40,213.25 52.13,215.11 52.86,216.94 53.59,218.76 54.32,220.56 55.04,222.34 55.77,224.09 56.50,225.83 57.23,227.55 57.96,229.25 58.68,230.93 59.41,232.58 60.14,234.22 60.87,235.84 61.60,237.44 62.33,239.02 63.05,240.58 63.78,242.12 64.51,243.64 65.24,245.14 65.97,246.62 66.69,248.08 67.42,249.52 68.15,250.94 68.88,252.34 69.61,253.72 70.34,255.08 71.06,256.42 71.79,257.74 72.52,259.04 73.25,260.32 73.98,261.58 74.70,262.82 75.43,264.05 76.16,265.25 76.89,266.43 77.62,267.59 78.35,268.73 79.07,269.86 79.80,270.96 80.53,272.04 81.26,273.10 81.99,274.15 82.71,275.17 83.44,276.17 84.17,277.16 84.90,278.12 85.63,279.06 86.35,279.99 87.08,280.89 87.81,281.77 88.54,282.64 89.27,283.48 90.00,284.31 90.72,285.11 91.45,285.89 92.18,286.66 92.91,287.40 93.64,288.13 94.36,288.83 95.09,289.52 95.82,290.19 96.55,290.83 97.28,291.46 98.01,292.06 98.73,292.65 99.46,293.21 100.19,293.76 100.92,294.29 101.65,294.79 102.37,295.28 103.10,295.75 103.83,296.19 104.56,296.62 105.29,297.03 106.02,297.41 106.74,297.78 107.47,298.13 108.20,298.46 108.93,298.77 109.66,299.05 110.38,299.32 111.11,299.57 111.84,299.80 112.57,300.01 113.30,300.20 114.02,300.36 114.75,300.51 115.48,300.64 116.21,300.75 116.94,300.84 117.67,300.91 118.39,300.96 119.12,300.99 119.85,301.00 120.58,300.99 121.31,300.96 122.03,300.91 122.76,300.84 123.49,300.75 124.22,300.64 124.95,300.51 125.68,300.36 126.40,300.20 127.13,300.01 127.86,299.80 128.59,299.57 129.32,299.32 130.04,299.05 130.77,298.77 131.50,298.46 132.23,298.13 132.96,297.78 133.68,297.41 134.41,297.03 135.14,296.62 135.87,296.19 136.60,295.75 137.33,295.28 138.05,294.79 138.78,294.29 139.51,293.76 140.24,293.21 140.97,292.65 141.69,292.06 142.42,291.46 143.15,290.83 143.88,290.19 144.61,289.52 145.34,288.83 146.06,288.13 146.79,287.40 147.52,286.66 148.25,285.89 148.98,285.11 149.70,284.31 150.43,283.48 151.16,282.64 151.89,281.77 152.62,280.89 153.35,279.99 154.07,279.06 154.80,278.12 155.53,277.16 156.26,276.17 156.99,275.17 157.71,274.15 158.44,273.10 159.17,272.04 159.90,270.96 160.63,269.86 161.35,268.73 162.08,267.59 162.81,266.43 163.54,265.25 164.27,264.05 165.00,262.82 165.72,261.58 166.45,260.32 167.18,259.04 167.91,257.74 168.64,256.42 169.36,255.08 170.09,253.72 170.82,252.34 171.55,250.94 172.28,249.52 173.01,248.08 173.73,246.62 174.46,245.14 175.19,243.64 175.92,242.12 176.65,240.58 177.37,239.02 178.10,237.44 178.83,235.84 179.56,234.22 180.29,232.58 181.02,230.93 181.74,229.25 182.47,227.55 183.20,225.83 183.93,224.09 184.66,222.34 185.38,220.56 186.11,218.76 186.84,216.94 187.57,215.11 188.30,213.25 189.02,211.37 189.75,209.47 190.48,207.56 191.21,205.62 191.94,203.67 192.67,201.69 193.39,199.69 194.12,197.68 194.85,195.64 195.58,193.59 196.31,191.51 197.03,189.41 197.76,187.30 198.49,185.16 199.22,183.01 199.95,180.83 200.68,178.64 201.40,176.42 202.13,174.19 202.86,171.94 203.59,169.66 204.32,167.37 205.04,165.05 205.77,162.72 206.50,160.37 207.23,157.99" fill="none" stroke="#0000ff" stroke-width="1.05"/>
<polyline clip-path="url(#c01)" points="32.47,157.99 33.20,160.37 33.93,162.72 34.66,165.05 35.38,167.37 36.11,169.66 36.84,171.94 37.57,174.19 38.30,176.42 39.02,178.64 39.75,180.83 40.48,183.01 41.21,185.16 41.94,187.30 42.67,189.41 43.39,191.51 44.12,193.59 44.85,195.64 45.58,197.68 46.31,199.69 47.03,201.69 47.76,203.67 48.49,205.62 49.22,207.56 49.95,209.47 50.68,211.37 51.40,213.25 52.13,215.11 52.86,216.94 53.59,218.76 54.32,220.56 55.04,222.34 55.77,224.09 56.50,225.83 57.23,227.55 57.96,229.25 58.68,230.93 59.41,232.58 60.14,234.22 60.87,235.84 61.60,237.44 62.33,239.02 63.05,240.58 63.78,242.12 64.51,243.64 65.24,245.14 65.97,246.62 66.69,248.08 67.42,249.52 68.15,250.94 68.88,252.34 69.61,253.72 70.34,255.08 71.06,256.42 71.79,257.74 72.52,259.04 73.25,260.32 73.98,261.58 74.70,262.82 75.43,264.05 76.16,265.25 76.89,266.43 77.62,267.59 78.35,268.73 79.07,269.86 79.80,270.96 80.53,272.04 81.26,273.10 81.99,274.15 82.71,275.17 83.44,276.17 84.17,277.16 84.90,278.12 85.63,279.06 86.35,279.99 87.08,280.89 87.81,281.77 88.54,282.64 89.27,283.48 90.00,284.31 90.72,285.11 91.45,285.89 92.18,286.66 92.91,287.40 93.64,288.13 94.36,288.83 95.09,289.52 95.82,290.19 96.55,290.83 97.28,291.46 98.01,292.06 98.73,292.65 99.46,293.21 100.19,293.76 100.92,294.29 101.65,294.79 102.37,295.28 103.10,295.75 103.83,296.19 104.56,296.62 105.29,297.03 106.02,297.41 106.74,297.78 107.47,298.13 108.20,298.46 108.93,298.77 109.66,299.05 110.38,299.32 111.11,299.57 111.84,299.80 112.57,300.01 113.30,300.20 114.02,300.36 114.75,300.51 115.48,300.64 116.21,300.75 116.94,300.84 117.67,300.91 118.39,300.96 119.12,300.99 119.85,301.00 120.58,300.99 121.31,300.96 122.03,300.91 122.76,300.84 123.49,300.75 124.22,300.64 124.95,300.51 125.68,300.36 126.40,300.20 127.13,300.01 127.86,299.80 128.59,299.57 129.32,299.32 130.04,299.05 130.77,298.77 131.50,298.46 132.23,298.13 132.96,297.78 133.68,297.41 134.41,297.03 135.14,296.62 135.87,296.19 136.60,295.75 137.33,295.28 138.05,294.79 138.78,294.29 139.51,293.76 140.24,293.21 140.97,292.65 141.69,292.06 142.42,291.46 143.15,290.83 143.88,290.19 144.61,289.52 145.34,288.83 146.06,288.13 146.79,287.40 147.52,286.66 148.25,285.89 148.98,285.11 149.70,284.31 150.43,283.48 151.16,282.64 151.89,281.77 152.62,280.89 153.35,279.99 154.07,279.06 154.80,278.12 155.53,277.16 156.26,276.17 156.99,275.17 157.71,274.15 158.44,273.10 159.17,272.04 159.90,270.96 160.63,269.86 161.35,268.73 162.08,267.59 162.81,266.43 163.54,265.25 164.27,264.05 165.00,262.82 165.72,261.58 166.45,260.32 167.18,259.04 167.91,257.74 168.64,256.42 169.36,255.08 170.09,253.72 170.82,252.34 171.55,250.94 172.28,249.52 173.01,248.08 173.73,246.62 174.46,245.14 175.19,243.64 175.92,242.12 176.65,240.58 177.37,239.02 178.10,237.44 178.83,235.84 179.56,234.22 180.29,232.58 181.02,230.93 181.74,229.25 182.47,227.55 183.20,225.83 183.93,224.09 184.66,222.34 185.38,220.56 186.11,218.76 186.84,216.94 187.57,215.11 188.30,213.25 189.02,211.37 189.75,209.47 190.48,207.56 191.21,205.62 191.94,203.67 192.67,201.69 193.39,199.69 194.12,197.68 194.85,195.64 195.58,193.59 196.31,191.51 197.03,189.41 197.76,187.30 198.49,185.16 199.22,183.01 199.95,180.83 200.68,178.64 201.40,176.42 202.13,174.19 202.86,171.94 203.59,169.66 204.32,167.37 205.04,165.05 205.77,162.72 206.50,160.37 207.23,157.99" fill="none" stroke="#ff0000" stroke-width="1.05" stroke-dasharray="1.15,1.35"/>
<rect x="29.5" y="170.25" width="182" height="130.75" fill="none" stroke="#000" stroke-width="0.55"/>
<path d="M29.5 296.91h2.73M211.5 296.91h-2.73M29.5 292.83h2.73M211.5 292.83h-2.73M29.5 288.74h2.73M211.5 288.74h-2.73M29.5 284.66h5.46M211.5 284.66h-5.46M29.5 280.57h2.73M211.5 280.57h-2.73M29.5 276.48h2.73M211.5 276.48h-2.73M29.5 272.4h2.73M211.5 272.4h-2.73M29.5 268.31h5.46M211.5 268.31h-5.46M29.5 264.23h2.73M211.5 264.23h-2.73M29.5 260.14h2.73M211.5 260.14h-2.73M29.5 256.05h2.73M211.5 256.05h-2.73M29.5 251.97h5.46M211.5 251.97h-5.46M29.5 247.88h2.73M211.5 247.88h-2.73M29.5 243.8h2.73M211.5 243.8h-2.73M29.5 239.71h2.73M211.5 239.71h-2.73M29.5 235.62h5.46M211.5 235.62h-5.46M29.5 231.54h2.73M211.5 231.54h-2.73M29.5 227.45h2.73M211.5 227.45h-2.73M29.5 223.37h2.73M211.5 223.37h-2.73M29.5 219.28h5.46M211.5 219.28h-5.46M29.5 215.2h2.73M211.5 215.2h-2.73M29.5 211.11h2.73M211.5 211.11h-2.73M29.5 207.02h2.73M211.5 207.02h-2.73M29.5 202.94h5.46M211.5 202.94h-5.46M29.5 198.85h2.73M211.5 198.85h-2.73M29.5 194.77h2.73M211.5 194.77h-2.73M29.5 190.68h2.73M211.5 190.68h-2.73M29.5 186.59h5.46M211.5 186.59h-5.46M29.5 182.51h2.73M211.5 182.51h-2.73M29.5 178.42h2.73M211.5 178.42h-2.73M29.5 174.34h2.73M211.5 174.34h-2.73M38.7 301v-1.96M38.7 170.25v1.96M54.5 301v-1.96M54.5 170.25v1.96M70.3 301v-3.92M70.3 170.25v3.92M86.1 301v-1.96M86.1 170.25v1.96M101.9 301v-1.96M101.9 170.25v1.96M117.7 301v-1.96M117.7 170.25v1.96M133.5 301v-1.96M133.5 170.25v1.96M149.3 301v-3.92M149.3 170.25v3.92M165.1 301v-1.96M165.1 170.25v1.96M180.9 301v-1.96M180.9 170.25v1.96M196.7 301v-1.96M196.7 170.25v1.96" stroke="#000" stroke-width="0.55" fill="none"/>
<text transform="translate(28.2 287.66) scale(1.01 1.17)" text-anchor="end">2</text>
<text transform="translate(28.2 271.31) scale(1.01 1.17)" text-anchor="end">4</text>
<text transform="translate(28.2 254.97) scale(1.01 1.17)" text-anchor="end">6</text>
<text transform="translate(28.2 238.62) scale(1.01 1.17)" text-anchor="end">8</text>
<text transform="translate(28.2 222.28) scale(1.01 1.17)" text-anchor="end">10</text>
<text transform="translate(28.2 205.94) scale(1.01 1.17)" text-anchor="end">12</text>
<text transform="translate(28.2 189.59) scale(1.01 1.17)" text-anchor="end">14</text>
<text transform="translate(28.2 173.25) scale(1.01 1.17)" text-anchor="end">16</text>
<text transform="translate(70.3 309) scale(1.01 1.17)" text-anchor="middle">0.51</text>
<text transform="translate(149.3 309) scale(1.01 1.17)" text-anchor="middle">0.515</text>
<text transform="translate(212 320.2) scale(1.0 1.0)" text-anchor="end">|A<tspan font-size="5.0" dy="1.9">0</tspan><tspan dy="-1.9">(0)|</tspan><tspan font-size="5.4" dy="-3.0">2</tspan></text>
<text transform="translate(6.1 169.65) rotate(-90) scale(0.98 1.2)" text-anchor="end">-2 Δln(L)</text>
<text transform="translate(85.2 183.75) scale(1.02 1.17)" font-weight="bold" font-style="italic">ATLAS</text>
<path d="M85.6 191.95l0.8 3.4l0.5 -6.2h5.6" stroke="#000" stroke-width="0.6" fill="none"/>
<text transform="translate(88.7 195.15) scale(1.01 1.17)">s = 13 TeV, 80.5 fb<tspan font-size="5.4" dy="-3.0">-1</tspan></text>
<path d="M85.8 209.55h7.6" stroke="#0000ff" stroke-width="1.0"/>
<path d="M85.8 221.55h7.6" stroke="#ff0000" stroke-opacity="0.55" stroke-width="1.1" stroke-dasharray="1.5,1.2"/>
<text transform="translate(95.2 212.65) scale(1.01 1.17)">Solution (a)</text>
<text transform="translate(95.2 225.15) scale(1.01 1.17)">Solution (b)</text>
<clipPath id="c11"><rect x="264.5" y="170.25" width="182" height="130.75"/></clipPath>
<polyline clip-path="url(#c11)" points="267.64,157.99 268.38,160.37 269.11,162.72 269.84,165.05 270.58,167.37 271.31,169.66 272.04,171.94 272.78,174.19 273.51,176.42 274.25,178.64 274.98,180.83 275.71,183.01 276.45,185.16 277.18,187.30 277.92,189.41 278.65,191.51 279.38,193.59 280.12,195.64 280.85,197.68 281.58,199.69 282.32,201.69 283.05,203.67 283.79,205.62 284.52,207.56 285.25,209.47 285.99,211.37 286.72,213.25 287.45,215.11 288.19,216.94 288.92,218.76 289.66,220.56 290.39,222.34 291.12,224.09 291.86,225.83 292.59,227.55 293.33,229.25 294.06,230.93 294.79,232.58 295.53,234.22 296.26,235.84 296.99,237.44 297.73,239.02 298.46,240.58 299.20,242.12 299.93,243.64 300.66,245.14 301.40,246.62 302.13,248.08 302.86,249.52 303.60,250.94 304.33,252.34 305.07,253.72 305.80,255.08 306.53,256.42 307.27,257.74 308.00,259.04 308.74,260.32 309.47,261.58 310.20,262.82 310.94,264.05 311.67,265.25 312.40,266.43 313.14,267.59 313.87,268.73 314.61,269.86 315.34,270.96 316.07,272.04 316.81,273.10 317.54,274.15 318.28,275.17 319.01,276.17 319.74,277.16 320.48,278.12 321.21,279.06 321.94,279.99 322.68,280.89 323.41,281.77 324.15,282.64 324.88,283.48 325.61,284.31 326.35,285.11 327.08,285.89 327.81,286.66 328.55,287.40 329.28,288.13 330.02,288.83 330.75,289.52 331.48,290.19 332.22,290.83 332.95,291.46 333.69,292.06 334.42,292.65 335.15,293.21 335.89,293.76 336.62,294.29 337.35,294.79 338.09,295.28 338.82,295.75 339.56,296.19 340.29,296.62 341.02,297.03 341.76,297.41 342.49,297.78 343.23,298.13 343.96,298.46 344.69,298.77 345.43,299.05 346.16,299.32 346.89,299.57 347.63,299.80 348.36,300.01 349.10,300.20 349.83,300.36 350.56,300.51 351.30,300.64 352.03,300.75 352.76,300.84 353.50,300.91 354.23,300.96 354.97,300.99 355.70,301.00 356.43,300.99 357.17,300.96 357.90,300.91 358.64,300.84 359.37,300.75 360.10,300.64 360.84,300.51 361.57,300.36 362.30,300.20 363.04,300.01 363.77,299.80 364.51,299.57 365.24,299.32 365.97,299.05 366.71,298.77 367.44,298.46 368.17,298.13 368.91,297.78 369.64,297.41 370.38,297.03 371.11,296.62 371.84,296.19 372.58,295.75 373.31,295.28 374.05,294.79 374.78,294.29 375.51,293.76 376.25,293.21 376.98,292.65 377.71,292.06 378.45,291.46 379.18,290.83 379.92,290.19 380.65,289.52 381.38,288.83 382.12,288.13 382.85,287.40 383.59,286.66 384.32,285.89 385.05,285.11 385.79,284.31 386.52,283.48 387.25,282.64 387.99,281.77 388.72,280.89 389.46,279.99 390.19,279.06 390.92,278.12 391.66,277.16 392.39,276.17 393.12,275.17 393.86,274.15 394.59,273.10 395.33,272.04 396.06,270.96 396.79,269.86 397.53,268.73 398.26,267.59 399.00,266.43 399.73,265.25 400.46,264.05 401.20,262.82 401.93,261.58 402.66,260.32 403.40,259.04 404.13,257.74 404.87,256.42 405.60,255.08 406.33,253.72 407.07,252.34 407.80,250.94 408.54,249.52 409.27,248.08 410.00,246.62 410.74,245.14 411.47,243.64 412.20,242.12 412.94,240.58 413.67,239.02 414.41,237.44 415.14,235.84 415.87,234.22 416.61,232.58 417.34,230.93 418.07,229.25 418.81,227.55 419.54,225.83 420.28,224.09 421.01,222.34 421.74,220.56 422.48,218.76 423.21,216.94 423.95,215.11 424.68,213.25 425.41,211.37 426.15,209.47 426.88,207.56 427.61,205.62 428.35,203.67 429.08,201.69 429.82,199.69 430.55,197.68 431.28,195.64 432.02,193.59 432.75,191.51 433.48,189.41 434.22,187.30 434.95,185.16 435.69,183.01 436.42,180.83 437.15,178.64 437.89,176.42 438.62,174.19 439.36,171.94 440.09,169.66 440.82,167.37 441.56,165.05 442.29,162.72 443.02,160.37 443.76,157.99" fill="none" stroke="#0000ff" stroke-width="1.05"/>
<polyline clip-path="url(#c11)" points="267.64,157.99 268.38,160.37 269.11,162.72 269.84,165.05 270.58,167.37 271.31,169.66 272.04,171.94 272.78,174.19 273.51,176.42 274.25,178.64 274.98,180.83 275.71,183.01 276.45,185.16 277.18,187.30 277.92,189.41 278.65,191.51 279.38,193.59 280.12,195.64 280.85,197.68 281.58,199.69 282.32,201.69 283.05,203.67 283.79,205.62 284.52,207.56 285.25,209.47 285.99,211.37 286.72,213.25 287.45,215.11 288.19,216.94 288.92,218.76 289.66,220.56 290.39,222.34 291.12,224.09 291.86,225.83 292.59,227.55 293.33,229.25 294.06,230.93 294.79,232.58 295.53,234.22 296.26,235.84 296.99,237.44 297.73,239.02 298.46,240.58 299.20,242.12 299.93,243.64 300.66,245.14 301.40,246.62 302.13,248.08 302.86,249.52 303.60,250.94 304.33,252.34 305.07,253.72 305.80,255.08 306.53,256.42 307.27,257.74 308.00,259.04 308.74,260.32 309.47,261.58 310.20,262.82 310.94,264.05 311.67,265.25 312.40,266.43 313.14,267.59 313.87,268.73 314.61,269.86 315.34,270.96 316.07,272.04 316.81,273.10 317.54,274.15 318.28,275.17 319.01,276.17 319.74,277.16 320.48,278.12 321.21,279.06 321.94,279.99 322.68,280.89 323.41,281.77 324.15,282.64 324.88,283.48 325.61,284.31 326.35,285.11 327.08,285.89 327.81,286.66 328.55,287.40 329.28,288.13 330.02,288.83 330.75,289.52 331.48,290.19 332.22,290.83 332.95,291.46 333.69,292.06 334.42,292.65 335.15,293.21 335.89,293.76 336.62,294.29 337.35,294.79 338.09,295.28 338.82,295.75 339.56,296.19 340.29,296.62 341.02,297.03 341.76,297.41 342.49,297.78 343.23,298.13 343.96,298.46 344.69,298.77 345.43,299.05 346.16,299.32 346.89,299.57 347.63,299.80 348.36,300.01 349.10,300.20 349.83,300.36 350.56,300.51 351.30,300.64 352.03,300.75 352.76,300.84 353.50,300.91 354.23,300.96 354.97,300.99 355.70,301.00 356.43,300.99 357.17,300.96 357.90,300.91 358.64,300.84 359.37,300.75 360.10,300.64 360.84,300.51 361.57,300.36 362.30,300.20 363.04,300.01 363.77,299.80 364.51,299.57 365.24,299.32 365.97,299.05 366.71,298.77 367.44,298.46 368.17,298.13 368.91,297.78 369.64,297.41 370.38,297.03 371.11,296.62 371.84,296.19 372.58,295.75 373.31,295.28 374.05,294.79 374.78,294.29 375.51,293.76 376.25,293.21 376.98,292.65 377.71,292.06 378.45,291.46 379.18,290.83 379.92,290.19 380.65,289.52 381.38,288.83 382.12,288.13 382.85,287.40 383.59,286.66 384.32,285.89 385.05,285.11 385.79,284.31 386.52,283.48 387.25,282.64 387.99,281.77 388.72,280.89 389.46,279.99 390.19,279.06 390.92,278.12 391.66,277.16 392.39,276.17 393.12,275.17 393.86,274.15 394.59,273.10 395.33,272.04 396.06,270.96 396.79,269.86 397.53,268.73 398.26,267.59 399.00,266.43 399.73,265.25 400.46,264.05 401.20,262.82 401.93,261.58 402.66,260.32 403.40,259.04 404.13,257.74 404.87,256.42 405.60,255.08 406.33,253.72 407.07,252.34 407.80,250.94 408.54,249.52 409.27,248.08 410.00,246.62 410.74,245.14 411.47,243.64 412.20,242.12 412.94,240.58 413.67,239.02 414.41,237.44 415.14,235.84 415.87,234.22 416.61,232.58 417.34,230.93 418.07,229.25 418.81,227.55 419.54,225.83 420.28,224.09 421.01,222.34 421.74,220.56 422.48,218.76 423.21,216.94 423.95,215.11 424.68,213.25 425.41,211.37 426.15,209.47 426.88,207.56 427.61,205.62 428.35,203.67 429.08,201.69 429.82,199.69 430.55,197.68 431.28,195.64 432.02,193.59 432.75,191.51 433.48,189.41 434.22,187.30 434.95,185.16 435.69,183.01 436.42,180.83 437.15,178.64 437.89,176.42 438.62,174.19 439.36,171.94 440.09,169.66 440.82,167.37 441.56,165.05 442.29,162.72 443.02,160.37 443.76,157.99" fill="none" stroke="#ff0000" stroke-width="1.05" stroke-dasharray="1.15,1.35"/>
<rect x="264.5" y="170.25" width="182" height="130.75" fill="none" stroke="#000" stroke-width="0.55"/>
<path d="M264.5 296.91h2.73M446.5 296.91h-2.73M264.5 292.83h2.73M446.5 292.83h-2.73M264.5 288.74h2.73M446.5 288.74h-2.73M264.5 284.66h5.46M446.5 284.66h-5.46M264.5 280.57h2.73M446.5 280.57h-2.73M264.5 276.48h2.73M446.5 276.48h-2.73M264.5 272.4h2.73M446.5 272.4h-2.73M264.5 268.31h5.46M446.5 268.31h-5.46M264.5 264.23h2.73M446.5 264.23h-2.73M264.5 260.14h2.73M446.5 260.14h-2.73M264.5 256.05h2.73M446.5 256.05h-2.73M264.5 251.97h5.46M446.5 251.97h-5.46M264.5 247.88h2.73M446.5 247.88h-2.73M264.5 243.8h2.73M446.5 243.8h-2.73M264.5 239.71h2.73M446.5 239.71h-2.73M264.5 235.62h5.46M446.5 235.62h-5.46M264.5 231.54h2.73M446.5 231.54h-2.73M264.5 227.45h2.73M446.5 227.45h-2.73M264.5 223.37h2.73M446.5 223.37h-2.73M264.5 219.28h5.46M446.5 219.28h-5.46M264.5 215.2h2.73M446.5 215.2h-2.73M264.5 211.11h2.73M446.5 211.11h-2.73M264.5 207.02h2.73M446.5 207.02h-2.73M264.5 202.94h5.46M446.5 202.94h-5.46M264.5 198.85h2.73M446.5 198.85h-2.73M264.5 194.77h2.73M446.5 194.77h-2.73M264.5 190.68h2.73M446.5 190.68h-2.73M264.5 186.59h5.46M446.5 186.59h-5.46M264.5 182.51h2.73M446.5 182.51h-2.73M264.5 178.42h2.73M446.5 178.42h-2.73M264.5 174.34h2.73M446.5 174.34h-2.73M266.8 301v-1.96M266.8 170.25v1.96M277.6 301v-1.96M277.6 170.25v1.96M288.4 301v-3.92M288.4 170.25v3.92M299.2 301v-1.96M299.2 170.25v1.96M310 301v-1.96M310 170.25v1.96M320.8 301v-1.96M320.8 170.25v1.96M331.6 301v-1.96M331.6 170.25v1.96M342.4 301v-3.92M342.4 170.25v3.92M353.2 301v-1.96M353.2 170.25v1.96M364 301v-1.96M364 170.25v1.96M374.8 301v-1.96M374.8 170.25v1.96M385.6 301v-1.96M385.6 170.25v1.96M396.4 301v-3.92M396.4 170.25v3.92M407.2 301v-1.96M407.2 170.25v1.96M418 301v-1.96M418 170.25v1.96M428.8 301v-1.96M428.8 170.25v1.96M439.6 301v-1.96M439.6 170.25v1.96" stroke="#000" stroke-width="0.55" fill="none"/>
<text transform="translate(263.2 304) scale(1.01 1.17)" text-anchor="end">0</text>
<text transform="translate(263.2 287.66) scale(1.01 1.17)" text-anchor="end">2</text>
<text transform="translate(263.2 271.31) scale(1.01 1.17)" text-anchor="end">4</text>
<text transform="translate(263.2 254.97) scale(1.01 1.17)" text-anchor="end">6</text>
<text transform="translate(263.2 238.62) scale(1.01 1.17)" text-anchor="end">8</text>
<text transform="translate(263.2 222.28) scale(1.01 1.17)" text-anchor="end">10</text>
<text transform="translate(263.2 205.94) scale(1.01 1.17)" text-anchor="end">12</text>
<text transform="translate(263.2 189.59) scale(1.01 1.17)" text-anchor="end">14</text>
<text transform="translate(263.2 173.25) scale(1.01 1.17)" text-anchor="end">16</text>
<text transform="translate(288.4 309) scale(1.01 1.17)" text-anchor="middle">0.215</text>
<text transform="translate(342.4 309) scale(1.01 1.17)" text-anchor="middle">0.22</text>
<text transform="translate(396.4 309) scale(1.01 1.17)" text-anchor="middle">0.225</text>
<text transform="translate(447 320.2) scale(1.0 1.0)" text-anchor="end">|A<tspan font-size="5.0" dy="1.9">∥</tspan><tspan dy="-1.9">(0)|</tspan><tspan font-size="5.4" dy="-3.0">2</tspan></text>
<text transform="translate(241.1 169.65) rotate(-90) scale(0.98 1.2)" text-anchor="end">-2 Δln(L)</text>
<text transform="translate(320.2 183.75) scale(1.02 1.17)" font-weight="bold" font-style="italic">ATLAS</text>
<path d="M320.6 191.95l0.8 3.4l0.5 -6.2h5.6" stroke="#000" stroke-width="0.6" fill="none"/>
<text transform="translate(323.7 195.15) scale(1.01 1.17)">s = 13 TeV, 80.5 fb<tspan font-size="5.4" dy="-3.0">-1</tspan></text>
<path d="M320.8 209.55h7.6" stroke="#0000ff" stroke-width="1.0"/>
<path d="M320.8 221.55h7.6" stroke="#ff0000" stroke-opacity="0.55" stroke-width="1.1" stroke-dasharray="1.5,1.2"/>
<text transform="translate(330.2 212.65) scale(1.01 1.17)">Solution (a)</text>
<text transform="translate(330.2 225.15) scale(1.01 1.17)">Solution (b)</text>
<clipPath id="c21"><rect x="499.5" y="170.25" width="182" height="130.75"/></clipPath>
<polyline clip-path="url(#c21)" points="502.66,157.99 503.39,160.37 504.12,162.72 504.85,165.05 505.58,167.37 506.31,169.66 507.04,171.94 507.77,174.19 508.50,176.42 509.23,178.64 509.96,180.83 510.69,183.01 511.42,185.16 512.15,187.30 512.88,189.41 513.61,191.51 514.35,193.59 515.08,195.64 515.81,197.68 516.54,199.69 517.27,201.69 518.00,203.67 518.73,205.62 519.46,207.56 520.19,209.47 520.92,211.37 521.65,213.25 522.38,215.11 523.11,216.94 523.84,218.76 524.57,220.56 525.30,222.34 526.03,224.09 526.76,225.83 527.49,227.55 528.22,229.25 528.95,230.93 529.68,232.58 530.41,234.22 531.14,235.84 531.87,237.44 532.60,239.02 533.33,240.58 534.06,242.12 534.79,243.64 535.52,245.14 536.26,246.62 536.99,248.08 537.72,249.52 538.45,250.94 539.18,252.34 539.91,253.72 540.64,255.08 541.37,256.42 542.10,257.74 542.83,259.04 543.56,260.32 544.29,261.58 545.02,262.82 545.75,264.05 546.48,265.25 547.21,266.43 547.94,267.59 548.67,268.73 549.40,269.86 550.13,270.96 550.86,272.04 551.59,273.10 552.32,274.15 553.05,275.17 553.78,276.17 554.51,277.16 555.24,278.12 555.97,279.06 556.70,279.99 557.43,280.89 558.17,281.77 558.90,282.64 559.63,283.48 560.36,284.31 561.09,285.11 561.82,285.89 562.55,286.66 563.28,287.40 564.01,288.13 564.74,288.83 565.47,289.52 566.20,290.19 566.93,290.83 567.66,291.46 568.39,292.06 569.12,292.65 569.85,293.21 570.58,293.76 571.31,294.29 572.04,294.79 572.77,295.28 573.50,295.75 574.23,296.19 574.96,296.62 575.69,297.03 576.42,297.41 577.15,297.78 577.88,298.13 578.61,298.46 579.34,298.77 580.08,299.05 580.81,299.32 581.54,299.57 582.27,299.80 583.00,300.01 583.73,300.20 584.46,300.36 585.19,300.51 585.92,300.64 586.65,300.75 587.38,300.84 588.11,300.91 588.84,300.96 589.57,300.99 590.30,301.00 591.03,300.99 591.76,300.96 592.49,300.91 593.22,300.84 593.95,300.75 594.68,300.64 595.41,300.51 596.14,300.36 596.87,300.20 597.60,300.01 598.33,299.80 599.06,299.57 599.79,299.32 600.52,299.05 601.26,298.77 601.99,298.46 602.72,298.13 603.45,297.78 604.18,297.41 604.91,297.03 605.64,296.62 606.37,296.19 607.10,295.75 607.83,295.28 608.56,294.79 609.29,294.29 610.02,293.76 610.75,293.21 611.48,292.65 612.21,292.06 612.94,291.46 613.67,290.83 614.40,290.19 615.13,289.52 615.86,288.83 616.59,288.13 617.32,287.40 618.05,286.66 618.78,285.89 619.51,285.11 620.24,284.31 620.97,283.48 621.70,282.64 622.43,281.77 623.17,280.89 623.90,279.99 624.63,279.06 625.36,278.12 626.09,277.16 626.82,276.17 627.55,275.17 628.28,274.15 629.01,273.10 629.74,272.04 630.47,270.96 631.20,269.86 631.93,268.73 632.66,267.59 633.39,266.43 634.12,265.25 634.85,264.05 635.58,262.82 636.31,261.58 637.04,260.32 637.77,259.04 638.50,257.74 639.23,256.42 639.96,255.08 640.69,253.72 641.42,252.34 642.15,250.94 642.88,249.52 643.61,248.08 644.34,246.62 645.08,245.14 645.81,243.64 646.54,242.12 647.27,240.58 648.00,239.02 648.73,237.44 649.46,235.84 650.19,234.22 650.92,232.58 651.65,230.93 652.38,229.25 653.11,227.55 653.84,225.83 654.57,224.09 655.30,222.34 656.03,220.56 656.76,218.76 657.49,216.94 658.22,215.11 658.95,213.25 659.68,211.37 660.41,209.47 661.14,207.56 661.87,205.62 662.60,203.67 663.33,201.69 664.06,199.69 664.79,197.68 665.52,195.64 666.25,193.59 666.99,191.51 667.72,189.41 668.45,187.30 669.18,185.16 669.91,183.01 670.64,180.83 671.37,178.64 672.10,176.42 672.83,174.19 673.56,171.94 674.29,169.66 675.02,167.37 675.75,165.05 676.48,162.72 677.21,160.37 677.94,157.99" fill="none" stroke="#0000ff" stroke-width="1.05"/>
<polyline clip-path="url(#c21)" points="504.39,157.99 505.12,160.37 505.84,162.72 506.56,165.05 507.29,167.37 508.01,169.66 508.74,171.94 509.46,174.19 510.19,176.42 510.91,178.64 511.63,180.83 512.36,183.01 513.08,185.16 513.81,187.30 514.53,189.41 515.26,191.51 515.98,193.59 516.70,195.64 517.43,197.68 518.15,199.69 518.88,201.69 519.60,203.67 520.33,205.62 521.05,207.56 521.77,209.47 522.50,211.37 523.22,213.25 523.95,215.11 524.67,216.94 525.39,218.76 526.12,220.56 526.84,222.34 527.57,224.09 528.29,225.83 529.02,227.55 529.74,229.25 530.46,230.93 531.19,232.58 531.91,234.22 532.64,235.84 533.36,237.44 534.09,239.02 534.81,240.58 535.53,242.12 536.26,243.64 536.98,245.14 537.71,246.62 538.43,248.08 539.16,249.52 539.88,250.94 540.60,252.34 541.33,253.72 542.05,255.08 542.78,256.42 543.50,257.74 544.22,259.04 544.95,260.32 545.67,261.58 546.40,262.82 547.12,264.05 547.85,265.25 548.57,266.43 549.29,267.59 550.02,268.73 550.74,269.86 551.47,270.96 552.19,272.04 552.92,273.10 553.64,274.15 554.36,275.17 555.09,276.17 555.81,277.16 556.54,278.12 557.26,279.06 557.99,279.99 558.71,280.89 559.43,281.77 560.16,282.64 560.88,283.48 561.61,284.31 562.33,285.11 563.05,285.89 563.78,286.66 564.50,287.40 565.23,288.13 565.95,288.83 566.68,289.52 567.40,290.19 568.12,290.83 568.85,291.46 569.57,292.06 570.30,292.65 571.02,293.21 571.75,293.76 572.47,294.29 573.19,294.79 573.92,295.28 574.64,295.75 575.37,296.19 576.09,296.62 576.82,297.03 577.54,297.41 578.26,297.78 578.99,298.13 579.71,298.46 580.44,298.77 581.16,299.05 581.88,299.32 582.61,299.57 583.33,299.80 584.06,300.01 584.78,300.20 585.51,300.36 586.23,300.51 586.95,300.64 587.68,300.75 588.40,300.84 589.13,300.91 589.85,300.96 590.58,300.99 591.30,301.00 592.02,300.99 592.75,300.96 593.47,300.91 594.20,300.84 594.92,300.75 595.65,300.64 596.37,300.51 597.09,300.36 597.82,300.20 598.54,300.01 599.27,299.80 599.99,299.57 600.72,299.32 601.44,299.05 602.16,298.77 602.89,298.46 603.61,298.13 604.34,297.78 605.06,297.41 605.78,297.03 606.51,296.62 607.23,296.19 607.96,295.75 608.68,295.28 609.41,294.79 610.13,294.29 610.85,293.76 611.58,293.21 612.30,292.65 613.03,292.06 613.75,291.46 614.48,290.83 615.20,290.19 615.92,289.52 616.65,288.83 617.37,288.13 618.10,287.40 618.82,286.66 619.55,285.89 620.27,285.11 620.99,284.31 621.72,283.48 622.44,282.64 623.17,281.77 623.89,280.89 624.61,279.99 625.34,279.06 626.06,278.12 626.79,277.16 627.51,276.17 628.24,275.17 628.96,274.15 629.68,273.10 630.41,272.04 631.13,270.96 631.86,269.86 632.58,268.73 633.31,267.59 634.03,266.43 634.75,265.25 635.48,264.05 636.20,262.82 636.93,261.58 637.65,260.32 638.38,259.04 639.10,257.74 639.82,256.42 640.55,255.08 641.27,253.72 642.00,252.34 642.72,250.94 643.44,249.52 644.17,248.08 644.89,246.62 645.62,245.14 646.34,243.64 647.07,242.12 647.79,240.58 648.51,239.02 649.24,237.44 649.96,235.84 650.69,234.22 651.41,232.58 652.14,230.93 652.86,229.25 653.58,227.55 654.31,225.83 655.03,224.09 655.76,222.34 656.48,220.56 657.21,218.76 657.93,216.94 658.65,215.11 659.38,213.25 660.10,211.37 660.83,209.47 661.55,207.56 662.27,205.62 663.00,203.67 663.72,201.69 664.45,199.69 665.17,197.68 665.90,195.64 666.62,193.59 667.34,191.51 668.07,189.41 668.79,187.30 669.52,185.16 670.24,183.01 670.97,180.83 671.69,178.64 672.41,176.42 673.14,174.19 673.86,171.94 674.59,169.66 675.31,167.37 676.04,165.05 676.76,162.72 677.48,160.37 678.21,157.99" fill="none" stroke="#ff0000" stroke-width="1.05" stroke-dasharray="1.15,1.35"/>
<rect x="499.5" y="170.25" width="182" height="130.75" fill="none" stroke="#000" stroke-width="0.55"/>
<path d="M499.5 296.91h2.73M681.5 296.91h-2.73M499.5 292.83h2.73M681.5 292.83h-2.73M499.5 288.74h2.73M681.5 288.74h-2.73M499.5 284.66h5.46M681.5 284.66h-5.46M499.5 280.57h2.73M681.5 280.57h-2.73M499.5 276.48h2.73M681.5 276.48h-2.73M499.5 272.4h2.73M681.5 272.4h-2.73M499.5 268.31h5.46M681.5 268.31h-5.46M499.5 264.23h2.73M681.5 264.23h-2.73M499.5 260.14h2.73M681.5 260.14h-2.73M499.5 256.05h2.73M681.5 256.05h-2.73M499.5 251.97h5.46M681.5 251.97h-5.46M499.5 247.88h2.73M681.5 247.88h-2.73M499.5 243.8h2.73M681.5 243.8h-2.73M499.5 239.71h2.73M681.5 239.71h-2.73M499.5 235.62h5.46M681.5 235.62h-5.46M499.5 231.54h2.73M681.5 231.54h-2.73M499.5 227.45h2.73M681.5 227.45h-2.73M499.5 223.37h2.73M681.5 223.37h-2.73M499.5 219.28h5.46M681.5 219.28h-5.46M499.5 215.2h2.73M681.5 215.2h-2.73M499.5 211.11h2.73M681.5 211.11h-2.73M499.5 207.02h2.73M681.5 207.02h-2.73M499.5 202.94h5.46M681.5 202.94h-5.46M499.5 198.85h2.73M681.5 198.85h-2.73M499.5 194.77h2.73M681.5 194.77h-2.73M499.5 190.68h2.73M681.5 190.68h-2.73M499.5 186.59h5.46M681.5 186.59h-5.46M499.5 182.51h2.73M681.5 182.51h-2.73M499.5 178.42h2.73M681.5 178.42h-2.73M499.5 174.34h2.73M681.5 174.34h-2.73M503.3 301v-1.96M503.3 170.25v1.96M515.7 301v-3.92M515.7 170.25v3.92M528.1 301v-1.96M528.1 170.25v1.96M540.5 301v-1.96M540.5 170.25v1.96M552.9 301v-1.96M552.9 170.25v1.96M565.3 301v-1.96M565.3 170.25v1.96M577.7 301v-3.92M577.7 170.25v3.92M590.1 301v-1.96M590.1 170.25v1.96M602.5 301v-1.96M602.5 170.25v1.96M614.9 301v-1.96M614.9 170.25v1.96M627.3 301v-1.96M627.3 170.25v1.96M639.7 301v-3.92M639.7 170.25v3.92M652.1 301v-1.96M652.1 170.25v1.96M664.5 301v-1.96M664.5 170.25v1.96M676.9 301v-1.96M676.9 170.25v1.96" stroke="#000" stroke-width="0.55" fill="none"/>
<text transform="translate(498.2 287.66) scale(1.01 1.17)" text-anchor="end">2</text>
<text transform="translate(498.2 271.31) scale(1.01 1.17)" text-anchor="end">4</text>
<text transform="translate(498.2 254.97) scale(1.01 1.17)" text-anchor="end">6</text>
<text transform="translate(498.2 238.62) scale(1.01 1.17)" text-anchor="end">8</text>
<text transform="translate(498.2 222.28) scale(1.01 1.17)" text-anchor="end">10</text>
<text transform="translate(498.2 205.94) scale(1.01 1.17)" text-anchor="end">12</text>
<text transform="translate(498.2 189.59) scale(1.01 1.17)" text-anchor="end">14</text>
<text transform="translate(498.2 173.25) scale(1.01 1.17)" text-anchor="end">16</text>
<text transform="translate(515.7 309) scale(1.01 1.17)" text-anchor="middle">0.02</text>
<text transform="translate(577.7 309) scale(1.01 1.17)" text-anchor="middle">0.03</text>
<text transform="translate(639.7 309) scale(1.01 1.17)" text-anchor="middle">0.04</text>
<text transform="translate(682 320.2) scale(1.0 1.0)" text-anchor="end">|A<tspan font-size="5.0" dy="1.9">S</tspan><tspan dy="-1.9">(0)|</tspan><tspan font-size="5.4" dy="-3.0">2</tspan></text>
<text transform="translate(476.1 169.65) rotate(-90) scale(0.98 1.2)" text-anchor="end">-2 Δln(L)</text>
<text transform="translate(555.2 183.75) scale(1.02 1.17)" font-weight="bold" font-style="italic">ATLAS</text>
<path d="M555.6 191.95l0.8 3.4l0.5 -6.2h5.6" stroke="#000" stroke-width="0.6" fill="none"/>
<text transform="translate(558.7 195.15) scale(1.01 1.17)">s = 13 TeV, 80.5 fb<tspan font-size="5.4" dy="-3.0">-1</tspan></text>
<path d="M555.8 209.55h7.6" stroke="#0000ff" stroke-width="1.0"/>
<path d="M555.8 221.55h7.6" stroke="#ff0000" stroke-opacity="0.55" stroke-width="1.1" stroke-dasharray="1.5,1.2"/>
<text transform="translate(565.2 212.65) scale(1.01 1.17)">Solution (a)</text>
<text transform="translate(565.2 225.15) scale(1.01 1.17)">Solution (b)</text>
<clipPath id="c12"><rect x="264.5" y="337.4" width="182" height="130.7"/></clipPath>
<polyline clip-path="url(#c12)" points="268.74,325.15 269.69,327.52 270.63,329.87 271.57,332.21 272.51,334.52 273.44,336.81 274.37,339.08 275.30,341.34 276.22,343.57 277.14,345.79 278.06,347.98 278.98,350.15 279.89,352.31 280.80,354.44 281.71,356.56 282.61,358.65 283.51,360.73 284.41,362.78 285.30,364.82 286.20,366.83 287.09,368.83 287.97,370.80 288.86,372.76 289.74,374.69 290.62,376.61 291.49,378.51 292.36,380.38 293.23,382.24 294.10,384.08 294.97,385.89 295.83,387.69 296.69,389.47 297.54,391.22 298.40,392.96 299.25,394.68 300.10,396.38 300.95,398.05 301.79,399.71 302.63,401.35 303.47,402.97 304.31,404.57 305.14,406.14 305.97,407.70 306.80,409.24 307.63,410.76 308.45,412.26 309.27,413.74 310.09,415.20 310.91,416.64 311.73,418.06 312.54,419.46 313.35,420.84 314.16,422.20 314.96,423.54 315.77,424.86 316.57,426.16 317.37,427.44 318.16,428.70 318.96,429.94 319.75,431.16 320.54,432.36 321.33,433.54 322.12,434.70 322.90,435.85 323.68,436.97 324.46,438.07 325.24,439.15 326.02,440.21 326.79,441.26 327.56,442.28 328.33,443.28 329.10,444.26 329.87,445.23 330.63,446.17 331.39,447.09 332.15,448.00 332.91,448.88 333.67,449.74 334.42,450.59 335.18,451.41 335.93,452.22 336.68,453.00 337.42,453.76 338.17,454.51 338.91,455.23 339.66,455.94 340.40,456.62 341.14,457.29 341.87,457.93 342.61,458.56 343.34,459.17 344.08,459.75 344.81,460.32 345.54,460.86 346.27,461.39 346.99,461.90 347.72,462.38 348.44,462.85 349.16,463.30 349.88,463.72 350.60,464.13 351.32,464.52 352.03,464.88 352.75,465.23 353.46,465.56 354.17,465.87 354.88,466.15 355.59,466.42 356.30,466.67 357.01,466.90 357.71,467.11 358.42,467.30 359.12,467.46 359.82,467.61 360.52,467.74 361.22,467.85 361.92,467.94 362.62,468.01 363.31,468.06 364.01,468.09 364.70,468.10 365.39,468.09 366.08,468.06 366.77,468.01 367.46,467.94 368.15,467.85 368.84,467.74 369.52,467.61 370.21,467.46 370.89,467.30 371.58,467.11 372.26,466.90 372.94,466.67 373.62,466.42 374.30,466.15 374.98,465.87 375.66,465.56 376.33,465.23 377.01,464.88 377.69,464.52 378.36,464.13 379.04,463.72 379.71,463.30 380.38,462.85 381.05,462.38 381.72,461.90 382.39,461.39 383.06,460.86 383.73,460.32 384.40,459.75 385.07,459.17 385.74,458.56 386.41,457.93 387.07,457.29 387.74,456.62 388.40,455.94 389.07,455.23 389.73,454.51 390.40,453.76 391.06,453.00 391.72,452.22 392.39,451.41 393.05,450.59 393.71,449.74 394.37,448.88 395.03,448.00 395.69,447.09 396.35,446.17 397.01,445.23 397.67,444.26 398.33,443.28 398.99,442.28 399.65,441.26 400.31,440.21 400.97,439.15 401.63,438.07 402.29,436.97 402.95,435.85 403.60,434.70 404.26,433.54 404.92,432.36 405.58,431.16 406.24,429.94 406.89,428.70 407.55,427.44 408.21,426.16 408.87,424.86 409.53,423.54 410.18,422.20 410.84,420.84 411.50,419.46 412.16,418.06 412.82,416.64 413.48,415.20 414.14,413.74 414.79,412.26 415.45,410.76 416.11,409.24 416.77,407.70 417.43,406.14 418.09,404.57 418.75,402.97 419.41,401.35 420.08,399.71 420.74,398.05 421.40,396.38 422.06,394.68 422.72,392.96 423.39,391.22 424.05,389.47 424.71,387.69 425.38,385.89 426.04,384.08 426.71,382.24 427.37,380.38 428.04,378.51 428.70,376.61 429.37,374.69 430.04,372.76 430.71,370.80 431.38,368.83 432.05,366.83 432.72,364.82 433.39,362.78 434.06,360.73 434.73,358.65 435.40,356.56 436.08,354.44 436.75,352.31 437.43,350.15 438.10,347.98 438.78,345.79 439.46,343.57 440.14,341.34 440.82,339.08 441.50,336.81 442.18,334.52 442.86,332.21 443.54,329.87 444.22,327.52 444.91,325.15" fill="none" stroke="#0000ff" stroke-width="1.05"/>
<polyline clip-path="url(#c12)" points="265.92,325.15 266.86,327.52 267.80,329.87 268.73,332.21 269.67,334.52 270.60,336.81 271.53,339.08 272.45,341.34 273.38,343.57 274.30,345.79 275.21,347.98 276.13,350.15 277.04,352.31 277.95,354.44 278.85,356.56 279.76,358.65 280.66,360.73 281.56,362.78 282.45,364.82 283.34,366.83 284.23,368.83 285.12,370.80 286.01,372.76 286.89,374.69 287.77,376.61 288.65,378.51 289.52,380.38 290.39,382.24 291.26,384.08 292.13,385.89 292.99,387.69 293.85,389.47 294.71,391.22 295.57,392.96 296.43,394.68 297.28,396.38 298.13,398.05 298.97,399.71 299.82,401.35 300.66,402.97 301.50,404.57 302.34,406.14 303.18,407.70 304.01,409.24 304.84,410.76 305.67,412.26 306.50,413.74 307.32,415.20 308.14,416.64 308.96,418.06 309.78,419.46 310.59,420.84 311.41,422.20 312.22,423.54 313.03,424.86 313.83,426.16 314.64,427.44 315.44,428.70 316.24,429.94 317.04,431.16 317.84,432.36 318.63,433.54 319.42,434.70 320.21,435.85 321.00,436.97 321.79,438.07 322.57,439.15 323.35,440.21 324.13,441.26 324.91,442.28 325.69,443.28 326.46,444.26 327.24,445.23 328.01,446.17 328.78,447.09 329.54,448.00 330.31,448.88 331.07,449.74 331.83,450.59 332.59,451.41 333.35,452.22 334.11,453.00 334.86,453.76 335.62,454.51 336.37,455.23 337.12,455.94 337.87,456.62 338.61,457.29 339.36,457.93 340.10,458.56 340.84,459.17 341.58,459.75 342.32,460.32 343.05,460.86 343.79,461.39 344.52,461.90 345.26,462.38 345.99,462.85 346.71,463.30 347.44,463.72 348.17,464.13 348.89,464.52 349.62,464.88 350.34,465.23 351.06,465.56 351.78,465.87 352.49,466.15 353.21,466.42 353.92,466.67 354.64,466.90 355.35,467.11 356.06,467.30 356.77,467.46 357.48,467.61 358.18,467.74 358.89,467.85 359.59,467.94 360.30,468.01 361.00,468.06 361.70,468.09 362.40,468.10 363.10,468.09 363.80,468.06 364.49,468.01 365.19,467.94 365.88,467.85 366.57,467.74 367.26,467.61 367.96,467.46 368.65,467.30 369.33,467.11 370.02,466.90 370.71,466.67 371.39,466.42 372.08,466.15 372.76,465.87 373.44,465.56 374.13,465.23 374.81,464.88 375.49,464.52 376.17,464.13 376.84,463.72 377.52,463.30 378.20,462.85 378.87,462.38 379.55,461.90 380.22,461.39 380.89,460.86 381.57,460.32 382.24,459.75 382.91,459.17 383.58,458.56 384.25,457.93 384.92,457.29 385.59,456.62 386.25,455.94 386.92,455.23 387.59,454.51 388.25,453.76 388.92,453.00 389.58,452.22 390.24,451.41 390.91,450.59 391.57,449.74 392.23,448.88 392.89,448.00 393.55,447.09 394.22,446.17 394.88,445.23 395.54,444.26 396.19,443.28 396.85,442.28 397.51,441.26 398.17,440.21 398.83,439.15 399.48,438.07 400.14,436.97 400.80,435.85 401.45,434.70 402.11,433.54 402.76,432.36 403.42,431.16 404.07,429.94 404.73,428.70 405.38,427.44 406.04,426.16 406.69,424.86 407.34,423.54 408.00,422.20 408.65,420.84 409.30,419.46 409.96,418.06 410.61,416.64 411.26,415.20 411.92,413.74 412.57,412.26 413.22,410.76 413.87,409.24 414.53,407.70 415.18,406.14 415.83,404.57 416.48,402.97 417.14,401.35 417.79,399.71 418.44,398.05 419.09,396.38 419.75,394.68 420.40,392.96 421.05,391.22 421.70,389.47 422.36,387.69 423.01,385.89 423.66,384.08 424.32,382.24 424.97,380.38 425.63,378.51 426.28,376.61 426.93,374.69 427.59,372.76 428.24,370.80 428.90,368.83 429.55,366.83 430.21,364.82 430.87,362.78 431.52,360.73 432.18,358.65 432.84,356.56 433.49,354.44 434.15,352.31 434.81,350.15 435.47,347.98 436.13,345.79 436.79,343.57 437.45,341.34 438.11,339.08 438.77,336.81 439.43,334.52 440.09,332.21 440.76,329.87 441.42,327.52 442.08,325.15" fill="none" stroke="#ff0000" stroke-width="1.05" stroke-dasharray="1.15,1.35"/>
<rect x="264.5" y="337.4" width="182" height="130.7" fill="none" stroke="#000" stroke-width="0.55"/>
<path d="M264.5 464.02h2.73M446.5 464.02h-2.73M264.5 459.93h2.73M446.5 459.93h-2.73M264.5 455.85h2.73M446.5 455.85h-2.73M264.5 451.76h5.46M446.5 451.76h-5.46M264.5 447.68h2.73M446.5 447.68h-2.73M264.5 443.59h2.73M446.5 443.59h-2.73M264.5 439.51h2.73M446.5 439.51h-2.73M264.5 435.43h5.46M446.5 435.43h-5.46M264.5 431.34h2.73M446.5 431.34h-2.73M264.5 427.26h2.73M446.5 427.26h-2.73M264.5 423.17h2.73M446.5 423.17h-2.73M264.5 419.09h5.46M446.5 419.09h-5.46M264.5 415h2.73M446.5 415h-2.73M264.5 410.92h2.73M446.5 410.92h-2.73M264.5 406.83h2.73M446.5 406.83h-2.73M264.5 402.75h5.46M446.5 402.75h-5.46M264.5 398.67h2.73M446.5 398.67h-2.73M264.5 394.58h2.73M446.5 394.58h-2.73M264.5 390.5h2.73M446.5 390.5h-2.73M264.5 386.41h5.46M446.5 386.41h-5.46M264.5 382.33h2.73M446.5 382.33h-2.73M264.5 378.24h2.73M446.5 378.24h-2.73M264.5 374.16h2.73M446.5 374.16h-2.73M264.5 370.07h5.46M446.5 370.07h-5.46M264.5 365.99h2.73M446.5 365.99h-2.73M264.5 361.91h2.73M446.5 361.91h-2.73M264.5 357.82h2.73M446.5 357.82h-2.73M264.5 353.74h5.46M446.5 353.74h-5.46M264.5 349.65h2.73M446.5 349.65h-2.73M264.5 345.57h2.73M446.5 345.57h-2.73M264.5 341.48h2.73M446.5 341.48h-2.73M273 468.1v-1.96M273 337.4v1.96M281.7 468.1v-1.96M281.7 337.4v1.96M290.4 468.1v-1.96M290.4 337.4v1.96M299.1 468.1v-3.92M299.1 337.4v3.92M307.8 468.1v-1.96M307.8 337.4v1.96M316.5 468.1v-1.96M316.5 337.4v1.96M325.2 468.1v-1.96M325.2 337.4v1.96M333.9 468.1v-1.96M333.9 337.4v1.96M342.6 468.1v-3.92M342.6 337.4v3.92M351.3 468.1v-1.96M351.3 337.4v1.96M360 468.1v-1.96M360 337.4v1.96M368.7 468.1v-1.96M368.7 337.4v1.96M377.4 468.1v-1.96M377.4 337.4v1.96M386.1 468.1v-3.92M386.1 337.4v3.92M394.8 468.1v-1.96M394.8 337.4v1.96M403.5 468.1v-1.96M403.5 337.4v1.96M412.2 468.1v-1.96M412.2 337.4v1.96M420.9 468.1v-1.96M420.9 337.4v1.96M429.6 468.1v-3.92M429.6 337.4v3.92M438.3 468.1v-1.96M438.3 337.4v1.96" stroke="#000" stroke-width="0.55" fill="none"/>
<text transform="translate(263.2 471.1) scale(1.01 1.17)" text-anchor="end">0</text>
<text transform="translate(263.2 454.76) scale(1.01 1.17)" text-anchor="end">2</text>
<text transform="translate(263.2 438.43) scale(1.01 1.17)" text-anchor="end">4</text>
<text transform="translate(263.2 422.09) scale(1.01 1.17)" text-anchor="end">6</text>
<text transform="translate(263.2 405.75) scale(1.01 1.17)" text-anchor="end">8</text>
<text transform="translate(263.2 389.41) scale(1.01 1.17)" text-anchor="end">10</text>
<text transform="translate(263.2 373.07) scale(1.01 1.17)" text-anchor="end">12</text>
<text transform="translate(263.2 356.74) scale(1.01 1.17)" text-anchor="end">14</text>
<text transform="translate(263.2 340.4) scale(1.01 1.17)" text-anchor="end">16</text>
<text transform="translate(299.1 476.1) scale(1.01 1.17)" text-anchor="middle">−0.4</text>
<text transform="translate(342.6 476.1) scale(1.01 1.17)" text-anchor="middle">−0.3</text>
<text transform="translate(386.1 476.1) scale(1.01 1.17)" text-anchor="middle">−0.2</text>
<text transform="translate(429.6 476.1) scale(1.01 1.17)" text-anchor="middle">−0.1</text>
<text transform="translate(447 487.3) scale(1.0 1.0)" text-anchor="end"><tspan font-family="Liberation Serif">δ</tspan><tspan dx="5.2">- </tspan><tspan font-family="Liberation Serif">δ</tspan><tspan font-size="5.0" dy="1.9">S</tspan><tspan dy="-1.9"> [rad]</tspan></text>
<path d="M414.7 485.7v5.2M412.6 490.6h4.2" stroke="#000" stroke-width="0.75" fill="none"/>
<text transform="translate(241.1 336.8) rotate(-90) scale(0.98 1.2)" text-anchor="end">-2 Δln(L)</text>
<text transform="translate(320.2 350.9) scale(1.02 1.17)" font-weight="bold" font-style="italic">ATLAS</text>
<path d="M320.6 359.1l0.8 3.4l0.5 -6.2h5.6" stroke="#000" stroke-width="0.6" fill="none"/>
<text transform="translate(323.7 362.3) scale(1.01 1.17)">s = 13 TeV, 80.5 fb<tspan font-size="5.4" dy="-3.0">-1</tspan></text>
<path d="M320.8 376.7h7.6" stroke="#0000ff" stroke-width="1.0"/>
<path d="M320.8 388.7h7.6" stroke="#ff0000" stroke-opacity="0.55" stroke-width="1.1" stroke-dasharray="1.5,1.2"/>
<text transform="translate(330.2 379.8) scale(1.01 1.17)">Solution (a)</text>
<text transform="translate(330.2 392.3) scale(1.01 1.17)">Solution (b)</text>
</svg>
</body></html>
